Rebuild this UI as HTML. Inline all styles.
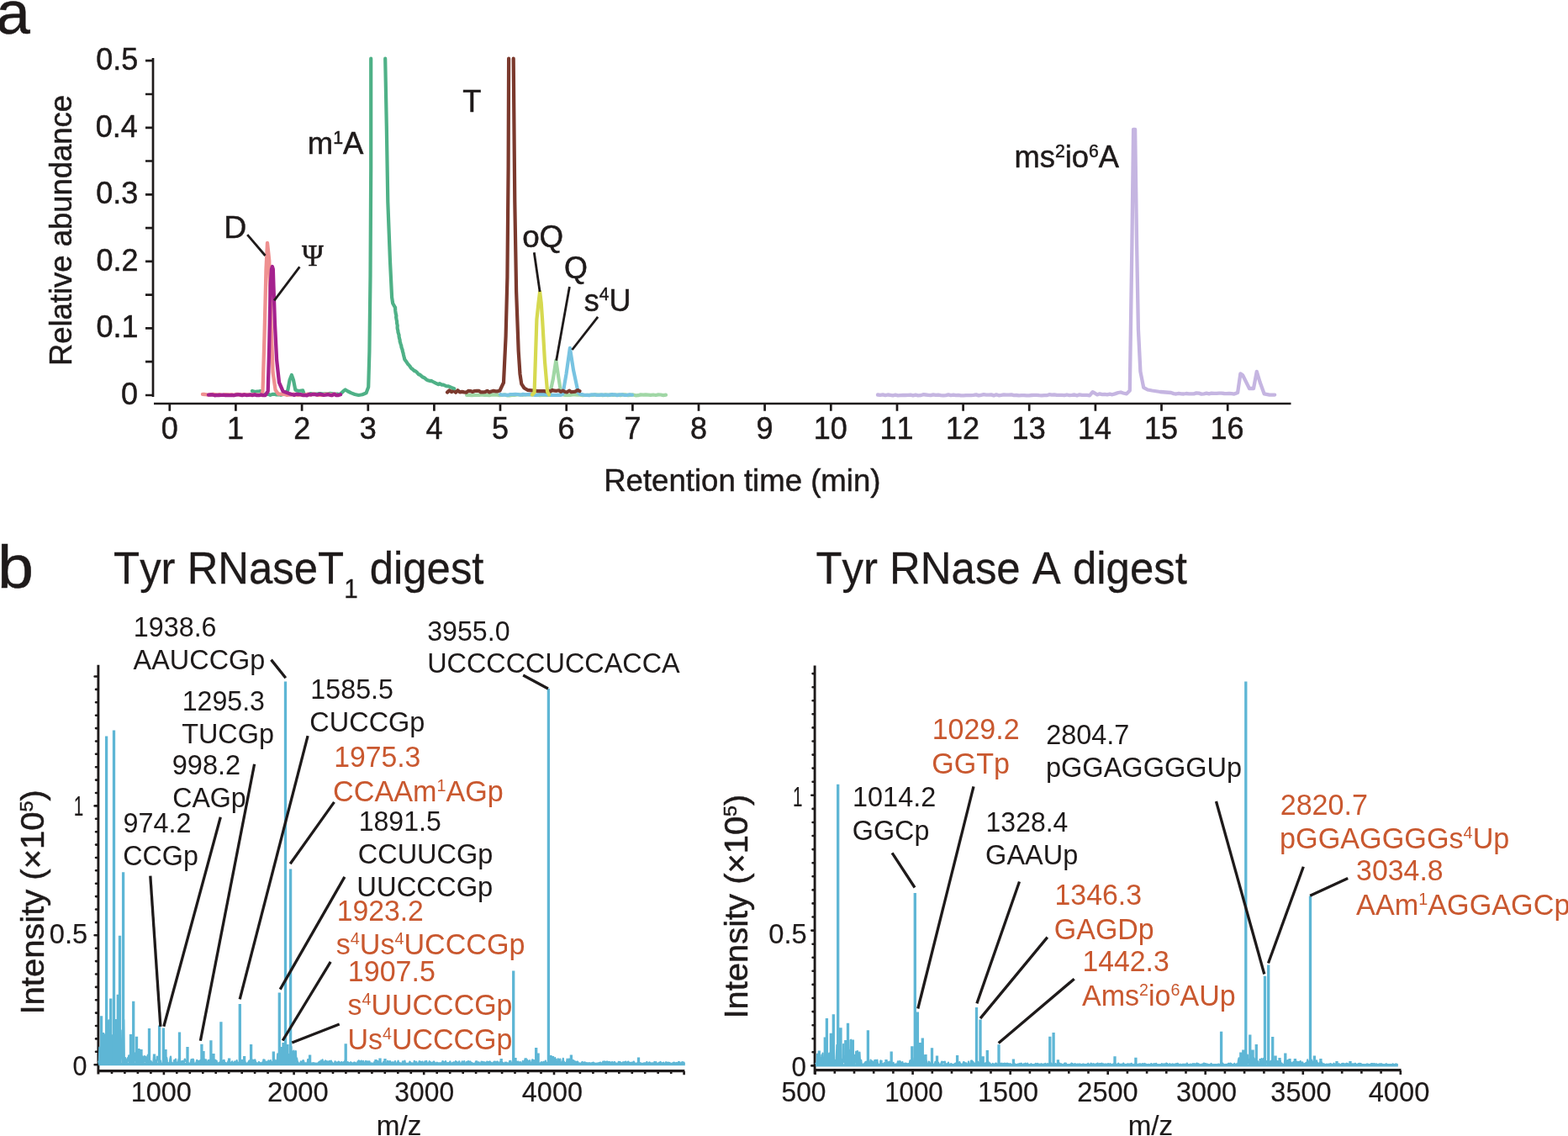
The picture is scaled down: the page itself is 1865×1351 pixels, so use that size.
<!DOCTYPE html>
<html><head><meta charset="utf-8"><title>Figure</title>
<style>html,body{margin:0;padding:0;background:#fff;width:1865px;height:1351px;overflow:hidden}</style></head>
<body>
<svg width="1865" height="1351" viewBox="0 0 1865 1351" style="display:block">
<rect width="1865" height="1351" fill="#ffffff"/>
<g stroke="#1e1a1a" stroke-width="2.7" fill="none">
<path d="M182 69 V472"/>
<path d="M183 480 H1535.5"/>
<path d="M173 470.0 H182 M173 430.2 H182 M173 390.4 H182 M173 350.7 H182 M173 310.9 H182 M173 271.1 H182 M173 231.3 H182 M173 191.5 H182 M173 151.8 H182 M173 112.0 H182 M173 72.2 H182 M201.8 480 V488.7 M280.4 480 V488.7 M359.1 480 V488.7 M437.8 480 V488.7 M516.4 480 V488.7 M595.0 480 V488.7 M673.7 480 V488.7 M752.4 480 V488.7 M831.0 480 V488.7 M909.6 480 V488.7 M988.3 480 V488.7 M1067.0 480 V488.7 M1145.6 480 V488.7 M1224.2 480 V488.7 M1302.9 480 V488.7 M1381.5 480 V488.7 M1460.2 480 V488.7"/>
</g>
<path d="M555.0 469.8 L558.0 469.9 L561.0 470.2 L564.0 469.8 L567.0 469.8 L570.0 469.9 L573.0 469.5 L576.0 469.8 L579.0 469.9 L582.0 470.1 L585.0 469.4 L588.0 469.6 L591.0 469.4 L594.0 470.1 L597.0 470.0 L600.0 469.3 L603.0 470.3 L606.0 470.3 L609.0 470.0 L612.0 469.9 L615.0 469.5 L618.0 469.3 L621.0 469.8 L624.0 469.4 L627.0 469.5 L630.0 469.5 L633.0 469.3 L636.0 469.8 L639.0 469.7 L642.0 470.1 L645.0 469.8 L648.0 469.9 L651.0 469.8 L654.3 467.3 L658.0 450.0 L661.3 428.6 L664.5 450.0 L667.3 467.3 L670.0 469.5 L672.0 469.8 L675.0 470.0 L678.0 470.0 L681.0 469.4 L684.0 469.3 L687.0 469.7 L690.0 469.6 L693.0 470.1 L696.0 470.0 L699.0 469.9 L702.0 469.9 L705.0 470.0 L708.0 469.4 L711.0 469.7 L714.0 469.5 L717.0 470.2 L720.0 469.4 L723.0 470.1 L726.0 469.4 L729.0 470.0 L732.0 469.6 L735.0 469.7 L738.0 470.1 L741.0 469.3 L744.0 469.4 L747.0 470.2 L750.0 469.8 L753.0 469.4 L756.0 470.3 L759.0 470.2 L762.0 469.4 L765.0 469.7 L768.0 469.4 L771.0 469.6 L774.0 469.9 L777.0 469.5 L780.0 470.0 L783.0 469.4 L786.0 469.5 L789.0 470.1 L792.0 469.7" stroke="#a0d7a5" stroke-width="4.2" fill="none" stroke-linejoin="round" stroke-linecap="round"/>
<path d="M595.0 469.1 L598.0 469.7 L601.0 469.7 L604.0 469.9 L607.0 469.0 L610.0 469.0 L613.0 468.9 L616.0 469.0 L619.0 469.7 L622.0 468.9 L625.0 469.4 L628.0 469.0 L631.0 469.1 L634.0 469.3 L637.0 469.9 L640.0 469.6 L643.0 468.7 L646.0 469.1 L649.0 468.9 L652.0 469.9 L655.0 469.8 L658.0 469.8 L661.0 469.9 L664.0 469.7 L667.0 470.0 L669.4 468.7 L673.5 445.0 L677.9 413.8 L682.0 440.0 L687.7 466.6 L690.0 469.0 L692.0 469.1 L695.0 469.8 L698.0 469.8 L701.0 470.1 L704.0 469.3 L707.0 469.3 L710.0 469.9 L713.0 469.8 L716.0 469.4 L719.0 469.8 L722.0 469.5 L725.0 469.9 L728.0 469.1 L731.0 469.3 L734.0 470.1 L737.0 469.4 L740.0 469.3 L743.0 470.0 L746.0 469.8 L749.0 469.2 L752.0 469.7" stroke="#78c3e1" stroke-width="4.2" fill="none" stroke-linejoin="round" stroke-linecap="round"/>
<path d="M532.0 466.6 L534.5 464.3 L537.0 466.1 L539.5 464.7 L542.0 466.7 L544.5 464.3 L547.0 466.4 L549.5 465.9 L552.0 466.4 L554.5 466.7 L557.0 464.9 L559.5 465.1 L562.0 466.0 L564.5 465.0 L567.0 464.9 L569.5 464.8 L572.0 466.4 L574.5 466.4 L577.0 466.2 L579.5 464.8 L582.0 466.5 L584.5 465.5 L587.0 464.9 L589.5 465.4 L592.0 465.3 L594.5 464.5 L599.0 455.0 L601.6 400.0 L603.4 330.0 L604.6 200.0 L605.1 69.7" stroke="#7b392d" stroke-width="4.2" fill="none" stroke-linejoin="round" stroke-linecap="round"/>
<path d="M610.7 69.7 L612.3 240.0 L614.1 346.6 L616.7 417.6 L618.5 445.0 L620.3 456.7 L623.5 461.5 L627.4 463.8 L634.5 464.7 L637.0 464.8 L639.5 465.1 L642.0 465.0 L644.5 465.1 L647.0 465.0 L649.5 465.6 L652.0 464.6 L654.5 465.6 L657.0 463.9 L659.5 464.7 L662.0 464.8 L664.5 464.3 L667.0 465.8 L669.5 464.7 L672.0 466.0 L674.5 466.4 L677.0 464.6 L679.5 466.2 L682.0 466.0 L684.5 465.6 L687.0 464.0 L689.5 465.1" stroke="#7b392d" stroke-width="4.2" fill="none" stroke-linejoin="round" stroke-linecap="round"/>
<path d="M633.0 469.5 L635.6 466.6 L638.4 380.0 L640.5 360.0 L642.1 347.0 L643.7 360.0 L645.1 380.0 L648.0 430.0 L651.1 466.0 L653.0 469.5" stroke="#d6d950" stroke-width="4.2" fill="none" stroke-linejoin="round" stroke-linecap="round"/>
<path d="M300.0 465.0 L302.5 465.8 L305.0 465.7 L307.5 465.5 L310.0 465.0 L314.0 469.8 L316.5 468.9 L319.0 468.7 L321.5 469.9 L324.0 468.9 L326.5 468.8 L329.0 469.5 L331.5 469.1 L334.0 469.8 L336.5 469.0 L340.0 468.0 L342.4 463.7 L344.5 452.0 L346.9 445.9 L349.0 452.0 L351.3 463.7 L355.0 465.0 L360.2 464.4 L362.0 469.4 L364.5 469.4 L367.0 469.3 L369.5 468.0 L372.0 468.8 L374.5 468.6 L377.0 468.7 L379.5 468.1 L382.0 468.2 L384.5 468.6 L387.0 468.3 L389.5 468.6 L392.0 467.9 L394.5 468.0 L397.0 469.0 L399.5 468.6 L402.0 468.7 L404.5 469.1 L408.9 464.7 L410.7 463.5 L414.0 465.5 L417.8 467.4 L422.0 469.0 L426.6 470.0 L431.0 469.3 L435.5 467.4 L438.2 460.3 L439.4 417.6 L440.5 328.8 L441.2 200.0 L441.2 69.7" stroke="#4fb187" stroke-width="4.2" fill="none" stroke-linejoin="round" stroke-linecap="round"/>
<path d="M458.2 69.7 L459.8 150.0 L461.3 240.0 L464.0 311.0 L466.1 353.7 L466.5 356.1 L466.8 358.4 L467.2 360.8 L468.7 363.5 L470.1 365.9 L470.1 367.7 L470.3 369.9 L470.6 372.3 L471.4 375.7 L471.1 376.9 L471.5 379.4 L472.1 382.4 L472.1 384.3 L472.8 387.4 L472.6 388.7 L472.7 390.8 L473.4 393.5 L473.4 394.8 L474.6 398.6 L474.5 399.6 L474.9 401.9 L475.7 404.8 L475.6 405.8 L476.6 409.2 L477.4 411.7 L477.4 412.8 L478.7 416.3 L478.8 417.5 L479.6 420.2 L479.9 421.7 L480.4 423.8 L480.9 425.6 L481.2 427.2 L482.8 429.4 L485.1 432.9 L486.0 433.7 L487.3 435.3 L489.2 438.1 L490.6 438.9 L492.8 441.1 L493.8 441.2 L495.5 442.4 L498.1 445.5 L499.1 445.4 L502.3 448.2 L504.6 449.2 L507.5 451.6 L509.6 452.6 L511.4 453.1 L512.9 452.9 L515.0 454.0 L518.2 455.7 L521.4 457.2 L522.8 456.2 L525.5 457.7 L527.4 457.6 L530.7 459.1 L533.5 459.4 L537.0 460.9 L540.3 462.1" stroke="#4fb187" stroke-width="4.2" fill="none" stroke-linejoin="round" stroke-linecap="round"/>
<path d="M241.0 468.9 L243.5 469.0 L246.0 469.4 L248.5 469.7 L251.0 469.1 L253.5 469.0 L256.0 469.2 L258.5 469.8 L261.0 469.1 L263.5 469.8 L266.0 469.7 L268.5 469.1 L271.0 469.5 L273.5 469.4 L276.0 469.4 L278.5 470.1 L281.0 469.0 L283.5 468.9 L286.0 470.0 L288.5 469.4 L291.0 469.1 L293.5 469.3 L296.0 469.3 L298.5 470.0 L301.0 469.2 L303.5 469.2 L306.0 469.6 L308.5 469.6 L311.0 470.0 L312.5 465.2 L314.5 400.0 L316.5 320.0 L318.0 288.9 L319.2 300.0 L320.2 309.6 L322.4 383.7 L324.6 443.0 L327.6 463.7 L331.0 468.5 L334.0 468.7 L336.5 468.9 L339.0 469.0 L341.5 469.9 L344.0 469.3 L346.5 469.6 L349.0 468.7 L351.5 469.3 L354.0 469.8 L356.5 469.3 L359.0 469.9 L361.5 469.8 L364.0 469.1 L366.5 468.6 L369.0 469.7 L371.5 468.8 L374.0 468.6 L376.5 469.6 L379.0 469.8 L381.5 469.8 L384.0 469.9 L386.5 468.9 L389.0 468.7 L391.5 468.8 L394.0 470.0 L396.5 468.8 L399.0 468.8" stroke="#ef9090" stroke-width="4.3" fill="none" stroke-linejoin="round" stroke-linecap="round"/>
<path d="M248.0 469.7 L250.5 469.5 L253.0 469.4 L255.5 470.3 L258.0 469.9 L260.5 470.0 L263.0 469.9 L265.5 469.7 L268.0 470.1 L270.5 469.9 L273.0 470.1 L275.5 470.0 L278.0 470.2 L280.5 469.7 L283.0 469.4 L285.5 469.4 L288.0 470.1 L290.5 469.4 L293.0 470.0 L295.5 469.9 L298.0 469.3 L300.5 470.1 L303.0 469.2 L305.5 470.2 L308.0 470.2 L310.5 469.5 L313.0 470.1 L315.5 470.1 L318.7 465.2 L320.2 413.3 L321.7 339.3 L323.0 320.0 L323.9 317.0 L324.8 320.0 L325.4 339.3 L326.9 383.7 L329.1 428.1 L332.0 454.8 L336.5 465.2 L343.9 468.1 L348.0 469.3 L350.0 469.9 L352.5 468.7 L355.0 469.2 L357.5 469.1 L360.0 470.0 L362.5 469.9 L365.0 470.3 L367.5 468.9 L370.0 469.5 L372.5 468.8 L375.0 469.1 L377.5 469.6 L380.0 468.7 L382.5 469.1 L385.0 469.9 L387.5 469.7 L390.0 469.1 L392.5 469.8 L395.0 470.2 L397.5 468.7 L400.0 470.2 L402.5 470.0 L405.0 469.3" stroke="#a5228e" stroke-width="4.3" fill="none" stroke-linejoin="round" stroke-linecap="round"/>
<path d="M1044.0 469.5 L1047.0 469.8 L1050.0 469.4 L1053.0 470.2 L1056.0 469.5 L1059.0 469.9 L1062.0 470.3 L1065.0 469.7 L1068.0 470.4 L1071.0 470.1 L1074.0 469.9 L1077.0 470.0 L1080.0 469.9 L1083.0 469.6 L1086.0 470.4 L1089.0 469.7 L1092.0 470.4 L1095.0 470.2 L1098.0 469.2 L1101.0 469.5 L1104.0 469.8 L1107.0 470.2 L1110.0 469.4 L1113.0 469.9 L1116.0 469.6 L1119.0 470.1 L1122.0 470.3 L1125.0 470.1 L1128.0 469.4 L1131.0 470.1 L1134.0 469.7 L1137.0 470.2 L1140.0 469.8 L1143.0 470.3 L1146.0 470.4 L1149.0 470.2 L1152.0 470.2 L1155.0 470.2 L1158.0 469.9 L1161.0 469.4 L1164.0 470.4 L1167.0 469.8 L1170.0 469.2 L1173.0 469.7 L1176.0 469.7 L1179.0 469.4 L1182.0 470.4 L1185.0 469.3 L1188.0 470.3 L1191.0 469.9 L1194.0 469.4 L1197.0 469.6 L1200.0 469.7 L1203.0 469.3 L1206.0 470.1 L1209.0 470.0 L1212.0 470.4 L1215.0 470.2 L1218.0 470.1 L1221.0 470.4 L1224.0 470.3 L1227.0 470.0 L1230.0 469.8 L1233.0 469.8 L1236.0 470.2 L1239.0 470.3 L1242.0 470.2 L1245.0 470.2 L1248.0 469.2 L1251.0 469.7 L1254.0 469.3 L1257.0 469.9 L1260.0 469.9 L1263.0 469.9 L1266.0 470.2 L1269.0 469.5 L1272.0 470.1 L1275.0 469.9 L1278.0 469.5 L1281.0 470.4 L1284.0 469.3 L1287.0 469.8 L1290.0 469.8 L1293.0 469.9 L1296.0 470.4 L1299.6 466.2 L1302.0 467.5 L1305.0 469.4 L1308.0 468.3 L1311.0 469.1 L1314.0 468.8 L1317.0 469.3 L1320.0 468.7 L1323.0 469.3 L1326.0 468.4 L1330.0 467.0 L1333.0 466.5 L1336.0 467.5 L1340.0 468.3 L1343.8 464.5 L1346.4 291.0 L1348.1 153.8 L1350.1 153.8 L1352.1 291.0 L1353.9 391.6 L1356.4 441.9 L1360.2 460.8 L1365.0 463.5 L1370.3 464.5 L1380.0 466.0 L1392.9 467.0 L1396.0 468.1 L1399.0 468.5 L1402.0 467.9 L1405.0 468.3 L1408.0 468.5 L1411.0 468.0 L1414.0 468.3 L1417.0 468.3 L1420.0 468.4 L1423.0 467.4 L1426.0 467.6 L1429.0 468.6 L1432.0 468.3 L1435.0 467.7 L1438.0 468.3 L1441.0 467.6 L1444.0 467.8 L1447.0 467.9 L1450.0 467.7 L1453.0 467.6 L1456.0 468.0 L1459.0 468.2 L1462.0 467.8 L1465.0 468.2 L1468.0 468.6 L1472.1 467.0 L1475.4 444.4 L1478.0 446.0 L1481.0 452.0 L1486.0 462.0 L1491.0 462.0 L1494.8 441.9 L1498.6 454.5 L1503.6 468.3 L1510.0 469.6 L1516.2 469.6" stroke="#c5b5e1" stroke-width="4.3" fill="none" stroke-linejoin="round" stroke-linecap="round"/>
<g stroke="#1e1a1a" stroke-width="2.8" fill="none">
<path d="M294.2 279.1 L315.5 304"/>
<path d="M356.4 317.3 L326.2 357.3"/>
<path d="M635.3 300.2 L642.1 347"/>
<path d="M677.4 341.1 L661.7 428.8"/>
<path d="M711.1 376.9 L680.5 416"/>
</g>
<g stroke="#1e1a1a" fill="none" stroke-linecap="round">
<path d="M116.9 790.7 V1277.6" stroke-width="2.9" stroke-linecap="butt"/>
<path d="M116 1273.6 H814.3" stroke-width="3.2" stroke-linecap="butt"/>
<path d="M112.6 1266.2 H116 M114 1250.8 H116 M114 1235.4 H116 M114 1220.0 H116 M114 1204.6 H116 M114 1189.2 H116 M114 1173.9 H116 M114 1158.5 H116 M114 1143.1 H116 M114 1127.7 H116 M112.6 1112.3 H116 M114 1096.9 H116 M114 1081.5 H116 M114 1066.1 H116 M114 1050.7 H116 M114 1035.3 H116 M114 1020.0 H116 M114 1004.6 H116 M114 989.2 H116 M114 973.8 H116 M112.6 958.4 H116 M114 943.0 H116 M114 927.6 H116 M114 912.2 H116 M114 896.8 H116 M114 881.5 H116 M114 866.1 H116 M114 850.7 H116 M114 835.3 H116 M114 819.9 H116 M112.6 804.5 H116" stroke-width="2.6"/>
<path d="M133.0 1274 V1277.1 M148.4 1274 V1277.1 M163.9 1274 V1277.1 M179.4 1274 V1277.1 M194.9 1274 V1278.3 M210.3 1274 V1277.1 M225.8 1274 V1277.1 M241.3 1274 V1277.1 M256.7 1274 V1277.1 M272.2 1274 V1277.1 M287.7 1274 V1277.1 M303.1 1274 V1277.1 M318.6 1274 V1277.1 M334.1 1274 V1277.1 M349.6 1274 V1278.3 M365.0 1274 V1277.1 M380.5 1274 V1277.1 M396.0 1274 V1277.1 M411.4 1274 V1277.1 M426.9 1274 V1277.1 M442.4 1274 V1277.1 M457.8 1274 V1277.1 M473.3 1274 V1277.1 M488.8 1274 V1277.1 M504.2 1274 V1278.3 M519.7 1274 V1277.1 M535.2 1274 V1277.1 M550.7 1274 V1277.1 M566.1 1274 V1277.1 M581.6 1274 V1277.1 M597.1 1274 V1277.1 M612.5 1274 V1277.1 M628.0 1274 V1277.1 M643.5 1274 V1277.1 M659.0 1274 V1278.3 M674.4 1274 V1277.1 M689.9 1274 V1277.1 M705.4 1274 V1277.1 M720.8 1274 V1277.1 M736.3 1274 V1277.1 M751.8 1274 V1277.1 M767.2 1274 V1277.1 M782.7 1274 V1277.1 M798.2 1274 V1277.1 M813.6 1274 V1278.3" stroke-width="2.6" stroke-linecap="butt"/>
</g>
<g stroke="#1e1a1a" fill="none" stroke-linecap="round">
<path d="M969.1 791.6 V1277.6" stroke-width="2.9" stroke-linecap="butt"/>
<path d="M968.5 1272.6 H1666.5" stroke-width="3.2" stroke-linecap="butt"/>
<path d="M965.3 1267.4 H968 M966.6 1251.3 H968 M966.6 1235.2 H968 M966.6 1219.2 H968 M966.6 1203.1 H968 M966.6 1187.0 H968 M966.6 1170.9 H968 M966.6 1154.8 H968 M966.6 1138.8 H968 M966.6 1122.7 H968 M965.3 1106.6 H968 M966.6 1090.5 H968 M966.6 1074.4 H968 M966.6 1058.4 H968 M966.6 1042.3 H968 M966.6 1026.2 H968 M966.6 1010.1 H968 M966.6 994.0 H968 M966.6 978.0 H968 M966.6 961.9 H968 M965.3 945.8 H968 M966.6 929.7 H968 M966.6 913.6 H968 M966.6 897.6 H968 M966.6 881.5 H968 M966.6 865.4 H968 M966.6 849.3 H968 M966.6 833.2 H968 M966.6 817.2 H968 M966.6 801.1 H968" stroke-width="2.6"/>
<path d="M969.6 1273 V1278.0 M992.8 1273 V1276.8 M1016.0 1273 V1276.8 M1039.2 1273 V1276.8 M1062.4 1273 V1276.8 M1085.6 1273 V1278.0 M1108.8 1273 V1276.8 M1132.0 1273 V1276.8 M1155.3 1273 V1276.8 M1178.5 1273 V1276.8 M1201.7 1273 V1278.0 M1224.9 1273 V1276.8 M1248.1 1273 V1276.8 M1271.3 1273 V1276.8 M1294.5 1273 V1276.8 M1317.7 1273 V1278.0 M1340.9 1273 V1276.8 M1364.1 1273 V1276.8 M1387.3 1273 V1276.8 M1410.5 1273 V1276.8 M1433.7 1273 V1278.0 M1456.9 1273 V1276.8 M1480.1 1273 V1276.8 M1503.4 1273 V1276.8 M1526.6 1273 V1276.8 M1549.8 1273 V1278.0 M1573.0 1273 V1276.8 M1596.2 1273 V1276.8 M1619.4 1273 V1276.8 M1642.6 1273 V1276.8 M1665.8 1273 V1278.0" stroke-width="2.6" stroke-linecap="butt"/>
</g>
<path d="M117.2 1265.5 H814.8" stroke="#5eb6d5" stroke-width="3.3" fill="none"/>
<path d="M117.20 1261.6 L117.80 1264.7 L118.40 1245.7 L119.00 1265.2 L119.60 1253.0 L120.20 1260.4 L120.80 1265.2 L121.40 1254.5 L122.00 1265.3 L122.60 1257.9 L123.20 1265.2 L123.80 1265.1 L124.40 1258.3 L125.00 1230.5 L125.60 1264.9 L126.20 1263.8 L126.80 1247.3 L127.40 1217.0 L128.00 1250.6 L128.60 1259.3 L129.20 1213.4 L129.80 1265.3 L130.40 1227.2 L131.00 1262.5 L131.60 1264.8 L132.20 1265.0 L132.80 1262.0 L133.40 1231.5 L134.00 1264.4 L134.60 1250.3 L135.20 1246.5 L135.80 1260.2 L136.40 1252.3 L137.00 1265.2 L137.60 1265.2 L138.20 1264.1 L138.80 1243.5 L139.40 1258.1 L140.00 1261.9 L140.60 1250.1 L141.20 1257.1 L141.80 1262.2 L142.40 1233.6 L143.00 1242.0 L143.60 1263.4 L144.20 1250.8 L144.80 1253.6 L145.40 1225.4 L146.00 1239.5 L146.60 1262.5 L147.20 1212.9 L147.80 1265.0 L148.40 1260.5 L149.00 1258.1 L149.60 1265.1 L150.20 1262.8 L150.80 1265.3 L151.40 1260.1 L152.00 1258.1 L152.60 1261.7 L153.20 1255.4 L153.80 1264.5 L154.40 1259.6 L155.00 1261.4 L155.60 1261.7 L156.20 1263.3 L156.80 1256.5 L157.40 1253.7 L158.00 1263.1 L158.60 1260.3 L159.20 1265.3 L159.80 1259.7 L160.40 1260.7 L161.00 1252.5 L161.60 1257.2 L162.20 1264.7 L162.80 1264.0 L163.40 1260.4 L164.00 1265.3 L164.60 1263.3 L165.20 1265.1 L165.80 1265.2 L166.40 1265.3 L167.00 1258.6 L167.60 1265.2 L168.20 1264.9 L168.80 1264.0 L169.40 1256.4 L170.00 1265.3 L170.60 1263.5 L171.20 1262.4 L171.80 1256.2 L172.40 1257.8 L173.00 1256.8 L173.60 1264.7 L174.20 1263.8 L174.80 1264.3 L175.40 1256.4 L176.00 1254.6 L176.60 1265.2 L177.20 1265.1 L177.80 1264.9 L178.40 1264.9 L179.00 1263.2 L179.60 1262.0 L180.20 1264.8 L180.80 1265.3 L181.40 1263.9 L182.00 1264.3 L182.60 1262.4 L183.20 1255.2 L183.80 1260.7 L184.40 1263.0 L185.00 1261.8 L185.60 1260.9 L186.20 1265.3 L186.80 1256.7 L187.40 1259.2 L188.00 1257.4 L188.60 1259.0 L189.20 1264.2 L189.80 1264.1 L190.40 1265.3 L191.00 1261.7 L191.60 1265.3 L192.20 1265.3 L192.80 1265.1 L193.40 1265.2 L194.00 1264.5 L194.60 1265.3 L195.20 1265.3 L195.80 1265.2 L196.40 1265.3 L197.00 1264.4 L197.60 1265.3 L198.20 1258.0 L198.80 1262.2 L199.40 1265.2 L200.00 1264.9 L200.60 1264.5 L201.20 1264.5 L201.80 1265.2 L202.40 1259.2 L203.00 1256.6 L203.60 1263.9 L204.20 1263.8 L204.80 1265.3 L205.40 1265.3 L206.00 1264.7 L206.60 1265.0 L207.20 1260.8 L207.80 1265.2 L208.40 1265.3 L209.00 1259.6 L209.60 1264.0 L210.20 1265.2 L210.80 1263.9 L211.40 1265.3 L212.00 1264.0 L212.60 1259.6 L213.20 1261.1 L213.80 1262.8 L214.40 1265.1 L215.00 1264.8 L215.60 1265.2 L216.20 1262.1 L216.80 1264.0 L217.40 1262.0 L218.00 1264.9 L218.60 1265.1 L219.20 1261.7 L219.80 1259.6 L220.40 1261.3 L221.00 1261.8 L221.60 1261.7 L222.20 1262.5 L222.80 1265.1 L223.40 1264.1 L224.00 1264.8 L224.60 1265.3 L225.20 1265.3 L225.80 1265.0 L226.40 1265.1 L227.00 1262.9 L227.60 1260.1 L228.20 1264.5 L228.80 1260.3 L229.40 1259.7 L230.00 1260.1 L230.60 1264.8 L231.20 1265.1 L231.80 1265.1 L232.40 1265.2 L233.00 1265.2 L233.60 1263.4 L234.20 1260.8 L234.80 1261.5 L235.40 1264.3 L236.00 1263.2 L236.60 1262.0 L237.20 1265.3 L237.80 1263.2 L238.40 1260.8 L239.00 1262.2 L239.60 1262.5 L240.20 1264.3 L240.80 1265.2 L241.40 1262.1 L242.00 1264.9 L242.60 1262.0 L243.20 1260.0 L243.80 1264.7 L244.40 1264.7 L245.00 1260.4 L245.60 1262.7 L246.20 1265.2 L246.80 1265.3 L247.40 1265.2 L248.00 1260.9 L248.60 1262.0 L249.20 1265.2 L249.80 1261.8 L250.40 1260.0 L251.00 1263.3 L251.60 1264.9 L252.20 1264.0 L252.80 1265.3 L253.40 1265.3 L254.00 1260.2 L254.60 1263.3 L255.20 1264.1 L255.80 1260.6 L256.40 1264.6 L257.00 1261.4 L257.60 1261.8 L258.20 1265.2 L258.80 1265.1 L259.40 1265.0 L260.00 1265.1 L260.60 1263.8 L261.20 1265.1 L261.80 1264.6 L262.40 1265.3 L263.00 1261.0 L263.60 1264.9 L264.20 1264.5 L264.80 1263.8 L265.40 1261.1 L266.00 1264.6 L266.60 1260.9 L267.20 1264.3 L267.80 1264.1 L268.40 1264.2 L269.00 1265.3 L269.60 1264.6 L270.20 1265.2 L270.80 1265.3 L271.40 1262.2 L272.00 1265.2 L272.60 1264.4 L273.20 1262.8 L273.80 1264.0 L274.40 1264.9 L275.00 1264.2 L275.60 1264.0 L276.20 1262.4 L276.80 1265.3 L277.40 1264.0 L278.00 1265.1 L278.60 1265.1 L279.20 1262.5 L279.80 1264.3 L280.40 1264.0 L281.00 1262.6 L281.60 1261.1 L282.20 1264.6 L282.80 1263.7 L283.40 1264.3 L284.00 1264.3 L284.60 1263.2 L285.20 1264.5 L285.80 1264.2 L286.40 1264.4 L287.00 1260.8 L287.60 1263.1 L288.20 1261.6 L288.80 1260.9 L289.40 1265.1 L290.00 1264.0 L290.60 1260.9 L291.20 1261.9 L291.80 1265.3 L292.40 1265.3 L293.00 1264.6 L293.60 1265.3 L294.20 1265.1 L294.80 1265.3 L295.40 1263.4 L296.00 1262.5 L296.60 1261.4 L297.20 1265.2 L297.80 1263.0 L298.40 1263.4 L299.00 1265.3 L299.60 1261.6 L300.20 1260.7 L300.80 1265.2 L301.40 1260.9 L302.00 1264.8 L302.60 1264.4 L303.20 1260.4 L303.80 1262.1 L304.40 1265.2 L305.00 1264.6 L305.60 1264.3 L306.20 1264.9 L306.80 1265.2 L307.40 1265.0 L308.00 1263.0 L308.60 1265.3 L309.20 1264.1 L309.80 1264.6 L310.40 1265.3 L311.00 1264.9 L311.60 1263.7 L312.20 1264.3 L312.80 1265.3 L313.40 1260.5 L314.00 1262.5 L314.60 1260.6 L315.20 1265.3 L315.80 1265.1 L316.40 1265.3 L317.00 1262.6 L317.60 1265.1 L318.20 1265.3 L318.80 1264.7 L319.40 1261.3 L320.00 1262.2 L320.60 1265.1 L321.20 1265.2 L321.80 1261.1 L322.40 1263.9 L323.00 1263.0 L323.60 1265.3 L324.20 1265.3 L324.80 1263.0 L325.40 1264.6 L326.00 1265.3 L326.60 1260.4 L327.20 1263.4 L327.80 1261.8 L328.40 1265.3 L329.00 1261.2 L329.60 1265.3 L330.20 1253.5 L330.80 1262.0 L331.40 1263.5 L332.00 1259.5 L332.60 1245.3 L333.20 1264.3 L333.80 1265.1 L334.40 1260.1 L335.00 1264.5 L335.60 1265.2 L336.20 1265.0 L336.80 1265.3 L337.40 1264.8 L338.00 1263.8 L338.60 1263.9 L339.20 1252.9 L339.80 1264.1 L340.40 1260.8 L341.00 1264.9 L341.60 1263.4 L342.20 1265.3 L342.80 1264.4 L343.40 1265.3 L344.00 1253.9 L344.60 1259.6 L345.20 1264.9 L345.80 1261.3 L346.40 1244.9 L347.00 1265.2 L347.60 1250.4 L348.20 1262.1 L348.80 1260.9 L349.40 1249.7 L350.00 1262.7 L350.60 1261.1 L351.20 1257.7 L351.80 1250.1 L352.40 1264.3 L353.00 1258.5 L353.60 1261.9 L354.20 1263.3 L354.80 1264.6 L355.40 1264.8 L356.00 1265.3 L356.60 1265.3 L357.20 1265.3 L357.80 1262.4 L358.40 1265.1 L359.00 1265.2 L359.60 1265.3 L360.20 1261.5 L360.80 1261.1 L361.40 1263.1 L362.00 1265.0 L362.60 1265.1 L363.20 1265.0 L363.80 1264.4 L364.40 1265.2 L365.00 1264.5 L365.60 1265.1 L366.20 1260.2 L366.80 1260.0 L367.40 1264.0 L368.00 1265.1 L368.60 1260.2 L369.20 1265.0 L369.80 1264.8 L370.40 1265.3 L371.00 1264.8 L371.60 1264.4 L372.20 1264.3 L372.80 1265.2 L373.40 1264.3 L374.00 1265.3 L374.60 1265.1 L375.20 1265.3 L375.80 1264.7 L376.40 1265.3 L377.00 1265.3 L377.60 1265.0 L378.20 1265.1 L378.80 1263.8 L379.40 1264.2 L380.00 1262.7 L380.60 1263.4 L381.20 1263.0 L381.80 1261.5 L382.40 1264.8 L383.00 1265.0 L383.60 1260.4 L384.20 1265.2 L384.80 1263.0 L385.40 1263.5 L386.00 1265.3 L386.60 1262.0 L387.20 1261.5 L387.80 1263.7 L388.40 1262.9 L389.00 1262.3 L389.60 1265.3 L390.20 1264.3 L390.80 1264.4 L391.40 1262.1 L392.00 1262.4 L392.60 1262.2 L393.20 1264.0 L393.80 1261.6 L394.40 1263.4 L395.00 1263.3 L395.60 1265.2 L396.20 1265.3 L396.80 1265.3 L397.40 1264.9 L398.00 1265.3 L398.60 1262.3 L399.20 1264.2 L399.80 1263.8 L400.40 1263.8 L401.00 1263.5 L401.60 1264.5 L402.20 1265.3 L402.80 1262.7 L403.40 1263.1 L404.00 1264.4 L404.60 1264.3 L405.20 1263.7 L405.80 1265.3 L406.40 1263.2 L407.00 1265.1 L407.60 1265.3 L408.20 1265.1 L408.80 1263.3 L409.40 1265.2 L410.00 1263.2 L410.60 1261.3 L411.20 1264.5 L411.80 1264.9 L412.40 1264.6 L413.00 1263.6 L413.60 1263.1 L414.20 1264.0 L414.80 1263.9 L415.40 1265.3 L416.00 1265.3 L416.60 1265.1 L417.20 1263.3 L417.80 1265.1 L418.40 1264.3 L419.00 1265.3 L419.60 1265.3 L420.20 1265.1 L420.80 1263.8 L421.40 1263.6 L422.00 1263.7 L422.60 1265.1 L423.20 1264.5 L423.80 1264.7 L424.40 1264.7 L425.00 1265.3 L425.60 1262.3 L426.20 1265.2 L426.80 1261.5 L427.40 1261.9 L428.00 1265.3 L428.60 1264.7 L429.20 1262.8 L429.80 1261.6 L430.40 1264.7 L431.00 1265.1 L431.60 1265.2 L432.20 1261.9 L432.80 1265.2 L433.40 1264.2 L434.00 1265.3 L434.60 1264.5 L435.20 1261.8 L435.80 1265.3 L436.40 1262.9 L437.00 1264.5 L437.60 1262.4 L438.20 1263.6 L438.80 1265.2 L439.40 1262.3 L440.00 1264.6 L440.60 1265.3 L441.20 1265.3 L441.80 1264.6 L442.40 1264.7 L443.00 1265.1 L443.60 1265.3 L444.20 1265.0 L444.80 1265.1 L445.40 1262.8 L446.00 1265.3 L446.60 1263.4 L447.20 1262.8 L447.80 1265.3 L448.40 1262.1 L449.00 1263.6 L449.60 1262.3 L450.20 1265.1 L450.80 1264.9 L451.40 1264.9 L452.00 1261.5 L452.60 1264.2 L453.20 1265.0 L453.80 1264.8 L454.40 1265.1 L455.00 1265.3 L455.60 1265.3 L456.20 1262.8 L456.80 1265.1 L457.40 1262.1 L458.00 1265.2 L458.60 1265.1 L459.20 1264.5 L459.80 1265.2 L460.40 1264.9 L461.00 1261.9 L461.60 1262.5 L462.20 1263.0 L462.80 1264.1 L463.40 1262.3 L464.00 1262.1 L464.60 1264.4 L465.20 1263.6 L465.80 1265.3 L466.40 1263.5 L467.00 1264.7 L467.60 1263.4 L468.20 1264.0 L468.80 1265.1 L469.40 1265.3 L470.00 1262.2 L470.60 1265.3 L471.20 1264.7 L471.80 1265.0 L472.40 1265.1 L473.00 1263.5 L473.60 1261.8 L474.20 1265.2 L474.80 1264.0 L475.40 1265.1 L476.00 1264.4 L476.60 1264.9 L477.20 1265.2 L477.80 1265.3 L478.40 1265.2 L479.00 1262.4 L479.60 1264.6 L480.20 1265.2 L480.80 1262.4 L481.40 1261.7 L482.00 1264.8 L482.60 1265.3 L483.20 1265.2 L483.80 1265.3 L484.40 1265.0 L485.00 1265.3 L485.60 1265.2 L486.20 1265.2 L486.80 1264.4 L487.40 1262.6 L488.00 1263.5 L488.60 1264.9 L489.20 1264.9 L489.80 1264.5 L490.40 1265.0 L491.00 1265.0 L491.60 1265.3 L492.20 1265.1 L492.80 1262.0 L493.40 1265.3 L494.00 1264.6 L494.60 1264.1 L495.20 1262.8 L495.80 1265.2 L496.40 1265.1 L497.00 1265.2 L497.60 1264.9 L498.20 1264.8 L498.80 1262.1 L499.40 1262.9 L500.00 1262.7 L500.60 1265.3 L501.20 1265.3 L501.80 1263.7 L502.40 1262.6 L503.00 1264.7 L503.60 1264.3 L504.20 1265.3 L504.80 1264.9 L505.40 1262.4 L506.00 1263.1 L506.60 1262.9 L507.20 1262.0 L507.80 1265.2 L508.40 1265.3 L509.00 1265.3 L509.60 1264.6 L510.20 1263.9 L510.80 1262.3 L511.40 1263.7 L512.00 1264.1 L512.60 1263.5 L513.20 1264.8 L513.80 1264.5 L514.40 1265.3 L515.00 1263.4 L515.60 1265.2 L516.20 1262.5 L516.80 1264.1 L517.40 1265.1 L518.00 1265.3 L518.60 1265.2 L519.20 1264.1 L519.80 1263.8 L520.40 1265.3 L521.00 1265.3 L521.60 1264.6 L522.20 1264.4 L522.80 1264.9 L523.40 1265.2 L524.00 1264.3 L524.60 1265.3 L525.20 1265.1 L525.80 1264.8 L526.40 1262.2 L527.00 1264.1 L527.60 1262.8 L528.20 1264.7 L528.80 1265.2 L529.40 1265.2 L530.00 1262.2 L530.60 1263.8 L531.20 1265.1 L531.80 1265.3 L532.40 1264.7 L533.00 1264.0 L533.60 1264.9 L534.20 1265.2 L534.80 1264.0 L535.40 1262.5 L536.00 1265.2 L536.60 1265.3 L537.20 1265.1 L537.80 1264.9 L538.40 1264.0 L539.00 1265.2 L539.60 1263.4 L540.20 1263.7 L540.80 1264.7 L541.40 1265.2 L542.00 1262.2 L542.60 1265.1 L543.20 1263.2 L543.80 1265.2 L544.40 1265.2 L545.00 1263.6 L545.60 1265.1 L546.20 1262.4 L546.80 1264.7 L547.40 1265.2 L548.00 1265.2 L548.60 1264.9 L549.20 1264.1 L549.80 1262.4 L550.40 1265.3 L551.00 1265.0 L551.60 1265.2 L552.20 1262.2 L552.80 1265.3 L553.40 1265.3 L554.00 1265.3 L554.60 1265.0 L555.20 1262.8 L555.80 1262.9 L556.40 1263.8 L557.00 1262.1 L557.60 1262.6 L558.20 1265.1 L558.80 1265.2 L559.40 1262.5 L560.00 1263.7 L560.60 1265.3 L561.20 1264.1 L561.80 1265.0 L562.40 1265.0 L563.00 1265.1 L563.60 1265.3 L564.20 1265.3 L564.80 1265.1 L565.40 1265.0 L566.00 1262.4 L566.60 1265.3 L567.20 1262.4 L567.80 1265.2 L568.40 1265.0 L569.00 1263.3 L569.60 1263.3 L570.20 1264.9 L570.80 1265.3 L571.40 1264.8 L572.00 1265.0 L572.60 1262.7 L573.20 1265.2 L573.80 1265.0 L574.40 1262.9 L575.00 1265.3 L575.60 1264.9 L576.20 1263.4 L576.80 1263.6 L577.40 1265.3 L578.00 1265.3 L578.60 1265.3 L579.20 1262.7 L579.80 1265.2 L580.40 1263.8 L581.00 1262.9 L581.60 1265.1 L582.20 1265.2 L582.80 1262.5 L583.40 1264.3 L584.00 1265.2 L584.60 1263.9 L585.20 1265.1 L585.80 1265.2 L586.40 1265.3 L587.00 1263.7 L587.60 1262.8 L588.20 1264.3 L588.80 1262.6 L589.40 1265.3 L590.00 1265.2 L590.60 1264.8 L591.20 1262.6 L591.80 1262.6 L592.40 1265.0 L593.00 1265.2 L593.60 1264.9 L594.20 1264.7 L594.80 1262.8 L595.40 1265.2 L596.00 1263.5 L596.60 1263.8 L597.20 1263.4 L597.80 1263.7 L598.40 1264.4 L599.00 1265.1 L599.60 1265.1 L600.20 1265.0 L600.80 1263.6 L601.40 1265.3 L602.00 1265.2 L602.60 1263.7 L603.20 1265.2 L603.80 1265.3 L604.40 1265.3 L605.00 1264.5 L605.60 1265.1 L606.20 1262.0 L606.80 1262.7 L607.40 1261.9 L608.00 1265.2 L608.60 1265.3 L609.20 1265.3 L609.80 1264.6 L610.40 1263.7 L611.00 1264.8 L611.60 1265.2 L612.20 1264.8 L612.80 1264.1 L613.40 1263.8 L614.00 1263.3 L614.60 1262.6 L615.20 1263.8 L615.80 1265.3 L616.40 1262.6 L617.00 1265.1 L617.60 1264.2 L618.20 1264.9 L618.80 1263.2 L619.40 1265.2 L620.00 1265.1 L620.60 1265.1 L621.20 1265.3 L621.80 1262.0 L622.40 1264.1 L623.00 1265.0 L623.60 1264.8 L624.20 1260.8 L624.80 1264.4 L625.40 1265.2 L626.00 1262.5 L626.60 1263.6 L627.20 1260.6 L627.80 1265.3 L628.40 1264.5 L629.00 1262.2 L629.60 1262.0 L630.20 1261.3 L630.80 1265.3 L631.40 1265.0 L632.00 1265.3 L632.60 1265.2 L633.20 1260.4 L633.80 1263.9 L634.40 1260.9 L635.00 1264.8 L635.60 1261.5 L636.20 1264.5 L636.80 1265.1 L637.40 1262.3 L638.00 1260.5 L638.60 1265.3 L639.20 1263.7 L639.80 1263.5 L640.40 1265.2 L641.00 1264.8 L641.60 1265.2 L642.20 1265.2 L642.80 1265.1 L643.40 1263.6 L644.00 1263.2 L644.60 1265.2 L645.20 1265.3 L645.80 1264.9 L646.40 1262.9 L647.00 1265.2 L647.60 1264.9 L648.20 1265.2 L648.80 1261.7 L649.40 1263.8 L650.00 1265.3 L650.60 1265.3 L651.20 1264.6 L651.80 1263.7 L652.40 1263.0 L653.00 1265.3 L653.60 1265.2 L654.20 1262.5 L654.80 1264.5 L655.40 1265.0 L656.00 1264.9 L656.60 1259.1 L657.20 1264.9 L657.80 1263.5 L658.40 1264.7 L659.00 1264.4 L659.60 1260.2 L660.20 1258.1 L660.80 1264.7 L661.40 1265.2 L662.00 1261.9 L662.60 1265.1 L663.20 1265.3 L663.80 1259.4 L664.40 1264.3 L665.00 1260.6 L665.60 1264.4 L666.20 1259.6 L666.80 1264.1 L667.40 1265.2 L668.00 1265.3 L668.60 1263.4 L669.20 1262.6 L669.80 1258.9 L670.40 1265.3 L671.00 1262.8 L671.60 1264.6 L672.20 1263.9 L672.80 1265.2 L673.40 1265.0 L674.00 1263.8 L674.60 1259.6 L675.20 1265.3 L675.80 1264.1 L676.40 1261.5 L677.00 1259.5 L677.60 1265.2 L678.20 1265.3 L678.80 1260.3 L679.40 1260.0 L680.00 1264.3 L680.60 1265.3 L681.20 1261.0 L681.80 1264.8 L682.40 1261.5 L683.00 1263.8 L683.60 1262.4 L684.20 1265.2 L684.80 1262.9 L685.40 1265.2 L686.00 1264.8 L686.60 1262.7 L687.20 1262.9 L687.80 1265.2 L688.40 1265.2 L689.00 1264.9 L689.60 1264.7 L690.20 1265.0 L690.80 1265.3 L691.40 1265.2 L692.00 1263.9 L692.60 1263.0 L693.20 1265.3 L693.80 1264.6 L694.40 1263.8 L695.00 1265.3 L695.60 1263.4 L696.20 1265.3 L696.80 1264.4 L697.40 1264.6 L698.00 1264.3 L698.60 1265.1 L699.20 1264.9 L699.80 1264.5 L700.40 1264.9 L701.00 1264.2 L701.60 1264.9 L702.20 1264.9 L702.80 1265.3 L703.40 1264.4 L704.00 1264.8 L704.60 1265.2 L705.20 1263.8 L705.80 1263.7 L706.40 1264.8 L707.00 1265.3 L707.60 1264.8 L708.20 1265.3 L708.80 1265.3 L709.40 1264.9 L710.00 1265.3 L710.60 1264.9 L711.20 1264.7 L711.80 1265.3 L712.40 1264.3 L713.00 1265.3 L713.60 1263.9 L714.20 1263.7 L714.80 1264.7 L715.40 1265.3 L716.00 1264.7 L716.60 1265.0 L717.20 1262.7 L717.80 1265.3 L718.40 1263.3 L719.00 1262.4 L719.60 1263.9 L720.20 1263.5 L720.80 1265.2 L721.40 1262.6 L722.00 1264.8 L722.60 1262.7 L723.20 1263.0 L723.80 1265.3 L724.40 1263.7 L725.00 1262.9 L725.60 1265.3 L726.20 1265.1 L726.80 1263.8 L727.40 1265.3 L728.00 1263.1 L728.60 1265.2 L729.20 1263.6 L729.80 1265.3 L730.40 1264.8 L731.00 1263.0 L731.60 1265.2 L732.20 1265.2 L732.80 1264.7 L733.40 1265.1 L734.00 1265.3 L734.60 1265.3 L735.20 1265.3 L735.80 1262.9 L736.40 1264.2 L737.00 1263.1 L737.60 1265.3 L738.20 1263.7 L738.80 1265.3 L739.40 1264.7 L740.00 1264.4 L740.60 1265.1 L741.20 1263.3 L741.80 1264.6 L742.40 1264.5 L743.00 1263.2 L743.60 1265.3 L744.20 1262.6 L744.80 1264.4 L745.40 1265.0 L746.00 1263.7 L746.60 1265.2 L747.20 1262.6 L747.80 1264.6 L748.40 1265.1 L749.00 1263.8 L749.60 1264.9 L750.20 1265.3 L750.80 1263.9 L751.40 1265.3 L752.00 1263.6 L752.60 1265.2 L753.20 1264.4 L753.80 1262.7 L754.40 1264.5 L755.00 1264.3 L755.60 1265.1 L756.20 1265.3 L756.80 1265.3 L757.40 1265.3 L758.00 1264.4 L758.60 1264.9 L759.20 1264.8 L759.80 1263.2 L760.40 1265.3 L761.00 1265.2 L761.60 1264.3 L762.20 1265.3 L762.80 1265.3 L763.40 1265.1 L764.00 1265.3 L764.60 1265.1 L765.20 1265.2 L765.80 1264.6 L766.40 1264.5 L767.00 1265.2 L767.60 1264.4 L768.20 1264.9 L768.80 1265.3 L769.40 1263.0 L770.00 1265.2 L770.60 1265.3 L771.20 1265.3 L771.80 1264.4 L772.40 1263.4 L773.00 1263.8 L773.60 1265.0 L774.20 1265.2 L774.80 1265.3 L775.40 1264.4 L776.00 1264.6 L776.60 1265.1 L777.20 1264.4 L777.80 1264.9 L778.40 1263.0 L779.00 1264.0 L779.60 1265.2 L780.20 1263.2 L780.80 1265.3 L781.40 1264.7 L782.00 1265.0 L782.60 1265.2 L783.20 1265.3 L783.80 1263.9 L784.40 1265.3 L785.00 1264.7 L785.60 1263.0 L786.20 1265.3 L786.80 1265.2 L787.40 1264.5 L788.00 1264.8 L788.60 1264.4 L789.20 1263.7 L789.80 1265.3 L790.40 1265.1 L791.00 1265.2 L791.60 1265.3 L792.20 1263.3 L792.80 1263.9 L793.40 1264.1 L794.00 1265.3 L794.60 1263.6 L795.20 1264.0 L795.80 1264.9 L796.40 1264.0 L797.00 1264.9 L797.60 1265.2 L798.20 1265.3 L798.80 1265.2 L799.40 1265.3 L800.00 1265.1 L800.60 1264.0 L801.20 1264.2 L801.80 1263.6 L802.40 1264.2 L803.00 1265.2 L803.60 1264.7 L804.20 1265.0 L804.80 1263.9 L805.40 1264.8 L806.00 1265.2 L806.60 1264.4 L807.20 1263.0 L807.80 1265.2 L808.40 1263.4 L809.00 1265.3 L809.60 1265.2 L810.20 1265.2 L810.80 1264.1 L811.40 1263.1 L812.00 1264.1 L812.60 1265.1 L813.20 1263.5 L813.80 1265.1 L814.40 1265.2" stroke="#5eb6d5" stroke-width="2.3" fill="none" stroke-linejoin="round"/>
<path d="M120.50 1265.3 V1208.3 M122.50 1265.3 V1228.0 M126.60 1265.3 V875.5 M128.80 1265.3 V1224.0 M131.70 1265.3 V1187.6 M135.50 1265.3 V868.5 M138.00 1265.3 V1212.0 M140.30 1265.3 V1182.8 M142.50 1265.3 V1112.7 M146.60 1265.3 V1037.3 M155.50 1265.3 V1230.0 M158.70 1265.3 V1190.8 M162.50 1265.3 V1232.8 M165.00 1265.3 V1247.0 M168.00 1265.3 V1248.0 M177.50 1265.3 V1223.0 M183.50 1265.3 V1253.5 M189.60 1265.3 V1219.4 M194.40 1265.3 V1222.6 M197.00 1265.3 V1248.0 M213.50 1265.3 V1227.4 M223.00 1265.3 V1245.0 M239.90 1265.3 V1241.7 M242.00 1265.3 V1250.0 M250.90 1265.3 V1237.2 M254.00 1265.3 V1253.0 M262.90 1265.3 V1215.3 M272.60 1265.3 V1258.6 M285.30 1265.3 V1193.9 M290.60 1265.3 V1255.9 M298.60 1265.3 V1241.9 M325.30 1265.3 V1250.6 M332.30 1265.3 V1180.6 M335.00 1265.3 V1245.0 M337.00 1265.3 V1240.0 M339.50 1265.3 V810.5 M342.00 1265.3 V1242.0 M345.60 1265.3 V1033.6 M348.00 1265.3 V1250.0 M350.00 1265.3 V1255.0 M368.60 1265.3 V1254.6 M411.20 1265.3 V1241.2 M447.00 1265.3 V1260.0 M452.00 1265.3 V1258.5 M458.00 1265.3 V1259.0 M596.20 1265.3 V1258.9 M610.70 1265.3 V1154.6 M613.00 1265.3 V1258.0 M625.20 1265.3 V1258.2 M637.70 1265.3 V1245.9 M640.10 1265.3 V1252.4 M652.40 1265.3 V819.0 M655.00 1265.3 V1255.0 M657.50 1265.3 V1256.0 M661.00 1265.3 V1259.0 M679.40 1265.3 V1254.6 M759.50 1265.3 V1257.5" stroke="#5eb6d5" stroke-width="3.30" fill="none" stroke-linecap="butt"/>
<path d="M970.2 1266.8 H1662.8" stroke="#5eb6d5" stroke-width="3.3" fill="none"/>
<path d="M970.20 1263.8 L970.80 1264.9 L971.40 1266.4 L972.00 1253.8 L972.60 1266.6 L973.20 1263.1 L973.80 1252.7 L974.40 1266.6 L975.00 1262.2 L975.60 1260.2 L976.20 1266.6 L976.80 1264.1 L977.40 1254.7 L978.00 1262.1 L978.60 1252.7 L979.20 1266.2 L979.80 1265.6 L980.40 1266.4 L981.00 1260.7 L981.60 1241.8 L982.20 1258.1 L982.80 1250.4 L983.40 1263.6 L984.00 1251.7 L984.60 1266.5 L985.20 1265.0 L985.80 1255.0 L986.40 1252.7 L987.00 1262.8 L987.60 1266.5 L988.20 1265.3 L988.80 1265.9 L989.40 1265.2 L990.00 1248.5 L990.60 1266.0 L991.20 1244.1 L991.80 1244.6 L992.40 1266.6 L993.00 1263.7 L993.60 1261.1 L994.20 1266.6 L994.80 1262.8 L995.40 1242.9 L996.00 1266.4 L996.60 1257.9 L997.20 1266.4 L997.80 1258.5 L998.40 1243.6 L999.00 1265.9 L999.60 1266.6 L1000.20 1266.5 L1000.80 1259.8 L1001.40 1266.6 L1002.00 1266.5 L1002.60 1261.0 L1003.20 1242.0 L1003.80 1262.9 L1004.40 1263.3 L1005.00 1256.4 L1005.60 1266.5 L1006.20 1258.5 L1006.80 1266.2 L1007.40 1257.5 L1008.00 1239.5 L1008.60 1266.6 L1009.20 1259.3 L1009.80 1257.6 L1010.40 1266.3 L1011.00 1265.3 L1011.60 1237.0 L1012.20 1236.7 L1012.80 1266.4 L1013.40 1253.6 L1014.00 1240.0 L1014.60 1265.7 L1015.20 1257.4 L1015.80 1266.6 L1016.40 1263.9 L1017.00 1255.0 L1017.60 1258.1 L1018.20 1250.7 L1018.80 1266.5 L1019.40 1264.6 L1020.00 1250.1 L1020.60 1260.7 L1021.20 1263.7 L1021.80 1264.6 L1022.40 1251.6 L1023.00 1263.0 L1023.60 1266.6 L1024.20 1261.0 L1024.80 1266.1 L1025.40 1265.7 L1026.00 1266.4 L1026.60 1265.6 L1027.20 1266.1 L1027.80 1266.6 L1028.40 1264.4 L1029.00 1266.6 L1029.60 1262.8 L1030.20 1266.6 L1030.80 1262.9 L1031.40 1262.6 L1032.00 1265.4 L1032.60 1263.7 L1033.20 1266.4 L1033.80 1263.5 L1034.40 1265.8 L1035.00 1266.4 L1035.60 1260.7 L1036.20 1265.9 L1036.80 1266.0 L1037.40 1262.2 L1038.00 1266.0 L1038.60 1264.2 L1039.20 1266.5 L1039.80 1262.5 L1040.40 1266.4 L1041.00 1266.6 L1041.60 1260.9 L1042.20 1266.5 L1042.80 1261.3 L1043.40 1260.8 L1044.00 1264.8 L1044.60 1266.6 L1045.20 1266.6 L1045.80 1266.5 L1046.40 1266.0 L1047.00 1264.8 L1047.60 1261.3 L1048.20 1266.1 L1048.80 1266.5 L1049.40 1265.2 L1050.00 1266.6 L1050.60 1266.6 L1051.20 1265.2 L1051.80 1264.3 L1052.40 1266.6 L1053.00 1265.8 L1053.60 1264.3 L1054.20 1263.8 L1054.80 1266.1 L1055.40 1262.6 L1056.00 1266.5 L1056.60 1264.2 L1057.20 1263.8 L1057.80 1262.8 L1058.40 1265.6 L1059.00 1266.6 L1059.60 1266.6 L1060.20 1265.5 L1060.80 1266.5 L1061.40 1264.9 L1062.00 1266.6 L1062.60 1263.9 L1063.20 1266.5 L1063.80 1266.6 L1064.40 1266.5 L1065.00 1265.9 L1065.60 1265.4 L1066.20 1266.1 L1066.80 1266.5 L1067.40 1265.8 L1068.00 1262.5 L1068.60 1265.6 L1069.20 1262.6 L1069.80 1266.6 L1070.40 1262.2 L1071.00 1263.2 L1071.60 1265.6 L1072.20 1265.7 L1072.80 1265.6 L1073.40 1263.1 L1074.00 1266.6 L1074.60 1265.1 L1075.20 1265.6 L1075.80 1266.4 L1076.40 1264.7 L1077.00 1264.7 L1077.60 1266.6 L1078.20 1264.9 L1078.80 1266.0 L1079.40 1265.9 L1080.00 1265.2 L1080.60 1266.6 L1081.20 1264.9 L1081.80 1266.0 L1082.40 1261.3 L1083.00 1266.4 L1083.60 1261.1 L1084.20 1262.1 L1084.80 1263.2 L1085.40 1258.5 L1086.00 1266.6 L1086.60 1263.1 L1087.20 1262.9 L1087.80 1261.9 L1088.40 1265.2 L1089.00 1266.6 L1089.60 1266.4 L1090.20 1263.0 L1090.80 1266.4 L1091.40 1266.6 L1092.00 1265.6 L1092.60 1264.6 L1093.20 1263.9 L1093.80 1266.6 L1094.40 1260.1 L1095.00 1265.7 L1095.60 1259.9 L1096.20 1266.6 L1096.80 1255.9 L1097.40 1263.2 L1098.00 1255.3 L1098.60 1255.0 L1099.20 1258.9 L1099.80 1266.5 L1100.40 1265.7 L1101.00 1266.3 L1101.60 1261.4 L1102.20 1266.4 L1102.80 1266.4 L1103.40 1266.6 L1104.00 1266.6 L1104.60 1262.6 L1105.20 1262.8 L1105.80 1266.2 L1106.40 1264.6 L1107.00 1265.9 L1107.60 1265.7 L1108.20 1266.2 L1108.80 1265.2 L1109.40 1266.5 L1110.00 1266.4 L1110.60 1265.8 L1111.20 1266.5 L1111.80 1266.0 L1112.40 1263.0 L1113.00 1266.6 L1113.60 1266.6 L1114.20 1264.2 L1114.80 1266.6 L1115.40 1266.4 L1116.00 1263.7 L1116.60 1265.3 L1117.20 1266.5 L1117.80 1266.6 L1118.40 1266.4 L1119.00 1266.4 L1119.60 1264.1 L1120.20 1262.6 L1120.80 1264.2 L1121.40 1263.2 L1122.00 1263.0 L1122.60 1263.5 L1123.20 1263.1 L1123.80 1262.6 L1124.40 1266.6 L1125.00 1266.3 L1125.60 1266.4 L1126.20 1265.3 L1126.80 1265.8 L1127.40 1266.3 L1128.00 1263.7 L1128.60 1266.1 L1129.20 1266.5 L1129.80 1266.4 L1130.40 1265.9 L1131.00 1265.2 L1131.60 1265.4 L1132.20 1266.0 L1132.80 1266.5 L1133.40 1266.1 L1134.00 1266.3 L1134.60 1266.5 L1135.20 1265.5 L1135.80 1266.5 L1136.40 1264.6 L1137.00 1264.9 L1137.60 1266.6 L1138.20 1265.1 L1138.80 1266.3 L1139.40 1265.9 L1140.00 1265.2 L1140.60 1264.2 L1141.20 1263.1 L1141.80 1264.4 L1142.40 1266.5 L1143.00 1265.5 L1143.60 1266.3 L1144.20 1266.6 L1144.80 1265.5 L1145.40 1265.8 L1146.00 1263.2 L1146.60 1266.3 L1147.20 1263.5 L1147.80 1265.6 L1148.40 1266.6 L1149.00 1264.4 L1149.60 1266.4 L1150.20 1265.5 L1150.80 1266.6 L1151.40 1266.6 L1152.00 1262.6 L1152.60 1266.6 L1153.20 1266.5 L1153.80 1266.5 L1154.40 1266.6 L1155.00 1263.5 L1155.60 1261.7 L1156.20 1264.9 L1156.80 1266.1 L1157.40 1262.9 L1158.00 1265.6 L1158.60 1266.6 L1159.20 1264.6 L1159.80 1266.2 L1160.40 1266.4 L1161.00 1266.3 L1161.60 1266.1 L1162.20 1266.5 L1162.80 1265.1 L1163.40 1263.0 L1164.00 1265.3 L1164.60 1266.6 L1165.20 1264.6 L1165.80 1266.6 L1166.40 1265.7 L1167.00 1263.1 L1167.60 1264.6 L1168.20 1262.6 L1168.80 1264.1 L1169.40 1266.4 L1170.00 1266.6 L1170.60 1265.9 L1171.20 1264.6 L1171.80 1266.4 L1172.40 1266.2 L1173.00 1264.1 L1173.60 1266.2 L1174.20 1265.1 L1174.80 1265.4 L1175.40 1262.4 L1176.00 1266.6 L1176.60 1266.5 L1177.20 1264.4 L1177.80 1265.2 L1178.40 1266.6 L1179.00 1266.6 L1179.60 1266.5 L1180.20 1266.1 L1180.80 1265.0 L1181.40 1266.5 L1182.00 1266.6 L1182.60 1265.8 L1183.20 1266.3 L1183.80 1265.3 L1184.40 1264.6 L1185.00 1264.9 L1185.60 1265.7 L1186.20 1266.2 L1186.80 1266.6 L1187.40 1265.4 L1188.00 1266.4 L1188.60 1266.3 L1189.20 1265.9 L1189.80 1264.8 L1190.40 1266.1 L1191.00 1265.0 L1191.60 1264.8 L1192.20 1266.6 L1192.80 1266.4 L1193.40 1265.1 L1194.00 1265.5 L1194.60 1264.7 L1195.20 1266.6 L1195.80 1266.2 L1196.40 1264.9 L1197.00 1266.1 L1197.60 1265.8 L1198.20 1264.7 L1198.80 1266.6 L1199.40 1266.6 L1200.00 1265.2 L1200.60 1266.1 L1201.20 1266.6 L1201.80 1265.3 L1202.40 1266.5 L1203.00 1266.6 L1203.60 1266.5 L1204.20 1266.6 L1204.80 1266.4 L1205.40 1265.5 L1206.00 1266.3 L1206.60 1264.8 L1207.20 1266.6 L1207.80 1266.6 L1208.40 1266.6 L1209.00 1266.1 L1209.60 1266.6 L1210.20 1265.8 L1210.80 1266.2 L1211.40 1266.1 L1212.00 1265.3 L1212.60 1265.5 L1213.20 1265.0 L1213.80 1266.6 L1214.40 1266.4 L1215.00 1264.8 L1215.60 1266.4 L1216.20 1266.5 L1216.80 1266.3 L1217.40 1266.6 L1218.00 1265.3 L1218.60 1265.9 L1219.20 1266.6 L1219.80 1264.8 L1220.40 1266.2 L1221.00 1266.5 L1221.60 1266.0 L1222.20 1264.8 L1222.80 1266.4 L1223.40 1266.6 L1224.00 1266.6 L1224.60 1266.6 L1225.20 1266.2 L1225.80 1266.5 L1226.40 1265.2 L1227.00 1266.6 L1227.60 1266.6 L1228.20 1266.3 L1228.80 1266.6 L1229.40 1266.5 L1230.00 1266.5 L1230.60 1266.6 L1231.20 1265.9 L1231.80 1264.9 L1232.40 1266.4 L1233.00 1265.9 L1233.60 1266.5 L1234.20 1265.0 L1234.80 1266.1 L1235.40 1266.6 L1236.00 1265.6 L1236.60 1266.6 L1237.20 1266.6 L1237.80 1266.6 L1238.40 1265.3 L1239.00 1265.7 L1239.60 1266.4 L1240.20 1266.1 L1240.80 1265.7 L1241.40 1266.6 L1242.00 1265.7 L1242.60 1265.7 L1243.20 1264.9 L1243.80 1266.6 L1244.40 1266.1 L1245.00 1266.2 L1245.60 1265.3 L1246.20 1266.4 L1246.80 1265.9 L1247.40 1265.1 L1248.00 1266.4 L1248.60 1266.2 L1249.20 1265.1 L1249.80 1266.6 L1250.40 1264.7 L1251.00 1266.5 L1251.60 1266.3 L1252.20 1266.5 L1252.80 1265.4 L1253.40 1266.2 L1254.00 1265.6 L1254.60 1266.6 L1255.20 1265.1 L1255.80 1265.4 L1256.40 1265.8 L1257.00 1266.5 L1257.60 1266.5 L1258.20 1266.3 L1258.80 1266.6 L1259.40 1264.8 L1260.00 1266.4 L1260.60 1264.8 L1261.20 1266.6 L1261.80 1265.9 L1262.40 1265.4 L1263.00 1265.9 L1263.60 1266.3 L1264.20 1266.6 L1264.80 1266.3 L1265.40 1266.4 L1266.00 1264.9 L1266.60 1264.7 L1267.20 1264.8 L1267.80 1264.7 L1268.40 1266.6 L1269.00 1266.6 L1269.60 1266.5 L1270.20 1266.6 L1270.80 1266.6 L1271.40 1266.1 L1272.00 1266.6 L1272.60 1266.0 L1273.20 1266.4 L1273.80 1266.5 L1274.40 1264.7 L1275.00 1266.6 L1275.60 1265.1 L1276.20 1266.2 L1276.80 1265.9 L1277.40 1266.6 L1278.00 1265.6 L1278.60 1265.1 L1279.20 1266.6 L1279.80 1266.3 L1280.40 1265.9 L1281.00 1266.3 L1281.60 1265.6 L1282.20 1265.9 L1282.80 1266.5 L1283.40 1265.8 L1284.00 1265.5 L1284.60 1266.3 L1285.20 1266.0 L1285.80 1265.9 L1286.40 1266.3 L1287.00 1266.6 L1287.60 1266.4 L1288.20 1265.5 L1288.80 1265.7 L1289.40 1266.6 L1290.00 1266.3 L1290.60 1266.0 L1291.20 1266.2 L1291.80 1266.6 L1292.40 1265.9 L1293.00 1265.8 L1293.60 1266.2 L1294.20 1264.9 L1294.80 1266.1 L1295.40 1266.6 L1296.00 1266.5 L1296.60 1265.7 L1297.20 1266.6 L1297.80 1264.8 L1298.40 1265.8 L1299.00 1265.5 L1299.60 1266.6 L1300.20 1266.6 L1300.80 1265.2 L1301.40 1266.2 L1302.00 1266.3 L1302.60 1266.2 L1303.20 1265.5 L1303.80 1266.4 L1304.40 1265.5 L1305.00 1266.6 L1305.60 1264.7 L1306.20 1265.8 L1306.80 1266.5 L1307.40 1266.3 L1308.00 1265.1 L1308.60 1266.5 L1309.20 1265.8 L1309.80 1265.0 L1310.40 1264.8 L1311.00 1266.5 L1311.60 1265.4 L1312.20 1266.0 L1312.80 1265.4 L1313.40 1266.6 L1314.00 1266.4 L1314.60 1266.3 L1315.20 1265.4 L1315.80 1266.3 L1316.40 1266.6 L1317.00 1266.6 L1317.60 1265.3 L1318.20 1265.1 L1318.80 1266.1 L1319.40 1266.6 L1320.00 1265.5 L1320.60 1265.2 L1321.20 1266.5 L1321.80 1266.3 L1322.40 1266.5 L1323.00 1266.6 L1323.60 1265.6 L1324.20 1266.6 L1324.80 1266.6 L1325.40 1265.0 L1326.00 1266.6 L1326.60 1265.6 L1327.20 1265.4 L1327.80 1266.5 L1328.40 1266.4 L1329.00 1266.5 L1329.60 1265.7 L1330.20 1264.7 L1330.80 1265.6 L1331.40 1266.2 L1332.00 1266.1 L1332.60 1266.4 L1333.20 1265.7 L1333.80 1266.5 L1334.40 1266.5 L1335.00 1265.8 L1335.60 1266.5 L1336.20 1264.7 L1336.80 1265.7 L1337.40 1266.6 L1338.00 1266.6 L1338.60 1266.0 L1339.20 1266.6 L1339.80 1266.2 L1340.40 1266.0 L1341.00 1265.4 L1341.60 1266.4 L1342.20 1266.1 L1342.80 1265.4 L1343.40 1266.6 L1344.00 1266.5 L1344.60 1265.4 L1345.20 1266.4 L1345.80 1264.9 L1346.40 1266.6 L1347.00 1266.6 L1347.60 1266.4 L1348.20 1266.3 L1348.80 1266.4 L1349.40 1266.5 L1350.00 1266.3 L1350.60 1265.1 L1351.20 1264.9 L1351.80 1265.9 L1352.40 1266.5 L1353.00 1266.1 L1353.60 1266.6 L1354.20 1266.6 L1354.80 1265.4 L1355.40 1266.5 L1356.00 1266.6 L1356.60 1265.4 L1357.20 1266.6 L1357.80 1266.5 L1358.40 1266.6 L1359.00 1265.1 L1359.60 1265.8 L1360.20 1266.6 L1360.80 1266.6 L1361.40 1265.0 L1362.00 1266.6 L1362.60 1265.7 L1363.20 1265.8 L1363.80 1266.0 L1364.40 1266.3 L1365.00 1266.4 L1365.60 1266.5 L1366.20 1265.9 L1366.80 1266.6 L1367.40 1266.3 L1368.00 1266.5 L1368.60 1266.4 L1369.20 1265.1 L1369.80 1266.1 L1370.40 1265.9 L1371.00 1265.9 L1371.60 1266.6 L1372.20 1265.5 L1372.80 1265.1 L1373.40 1265.6 L1374.00 1266.2 L1374.60 1265.3 L1375.20 1264.9 L1375.80 1266.5 L1376.40 1266.6 L1377.00 1266.5 L1377.60 1266.6 L1378.20 1266.5 L1378.80 1266.6 L1379.40 1266.6 L1380.00 1266.4 L1380.60 1266.6 L1381.20 1266.3 L1381.80 1265.2 L1382.40 1265.7 L1383.00 1266.6 L1383.60 1265.7 L1384.20 1266.6 L1384.80 1265.4 L1385.40 1265.9 L1386.00 1266.1 L1386.60 1266.3 L1387.20 1264.7 L1387.80 1266.6 L1388.40 1265.1 L1389.00 1266.6 L1389.60 1266.6 L1390.20 1266.5 L1390.80 1266.6 L1391.40 1265.3 L1392.00 1266.6 L1392.60 1266.1 L1393.20 1266.5 L1393.80 1266.4 L1394.40 1265.5 L1395.00 1266.1 L1395.60 1266.5 L1396.20 1265.6 L1396.80 1266.6 L1397.40 1266.6 L1398.00 1265.8 L1398.60 1265.2 L1399.20 1265.5 L1399.80 1265.8 L1400.40 1264.9 L1401.00 1264.9 L1401.60 1266.1 L1402.20 1266.6 L1402.80 1266.1 L1403.40 1266.3 L1404.00 1265.7 L1404.60 1266.4 L1405.20 1266.6 L1405.80 1266.6 L1406.40 1266.6 L1407.00 1265.7 L1407.60 1265.8 L1408.20 1266.2 L1408.80 1266.5 L1409.40 1265.7 L1410.00 1266.3 L1410.60 1266.2 L1411.20 1266.6 L1411.80 1264.6 L1412.40 1266.3 L1413.00 1266.3 L1413.60 1266.6 L1414.20 1266.3 L1414.80 1266.3 L1415.40 1266.3 L1416.00 1265.6 L1416.60 1266.5 L1417.20 1266.0 L1417.80 1265.8 L1418.40 1266.6 L1419.00 1265.3 L1419.60 1266.6 L1420.20 1266.5 L1420.80 1265.3 L1421.40 1266.6 L1422.00 1266.5 L1422.60 1266.4 L1423.20 1264.9 L1423.80 1264.7 L1424.40 1266.5 L1425.00 1265.9 L1425.60 1265.3 L1426.20 1266.2 L1426.80 1266.5 L1427.40 1266.6 L1428.00 1266.6 L1428.60 1266.6 L1429.20 1266.6 L1429.80 1265.7 L1430.40 1266.0 L1431.00 1266.6 L1431.60 1264.9 L1432.20 1264.7 L1432.80 1266.4 L1433.40 1266.4 L1434.00 1265.1 L1434.60 1265.8 L1435.20 1265.6 L1435.80 1266.6 L1436.40 1265.7 L1437.00 1266.3 L1437.60 1266.6 L1438.20 1266.6 L1438.80 1266.5 L1439.40 1266.5 L1440.00 1266.5 L1440.60 1265.0 L1441.20 1266.4 L1441.80 1266.6 L1442.40 1266.6 L1443.00 1266.6 L1443.60 1266.4 L1444.20 1266.3 L1444.80 1266.6 L1445.40 1266.2 L1446.00 1266.4 L1446.60 1266.6 L1447.20 1266.3 L1447.80 1266.6 L1448.40 1266.6 L1449.00 1265.6 L1449.60 1266.3 L1450.20 1266.4 L1450.80 1266.1 L1451.40 1265.6 L1452.00 1265.9 L1452.60 1264.8 L1453.20 1265.7 L1453.80 1266.4 L1454.40 1264.8 L1455.00 1266.6 L1455.60 1266.6 L1456.20 1266.6 L1456.80 1266.4 L1457.40 1266.4 L1458.00 1266.4 L1458.60 1265.9 L1459.20 1266.4 L1459.80 1266.3 L1460.40 1265.8 L1461.00 1264.9 L1461.60 1264.8 L1462.20 1266.4 L1462.80 1266.4 L1463.40 1264.6 L1464.00 1265.3 L1464.60 1265.1 L1465.20 1266.6 L1465.80 1266.5 L1466.40 1266.3 L1467.00 1266.5 L1467.60 1266.3 L1468.20 1264.9 L1468.80 1266.4 L1469.40 1266.2 L1470.00 1266.5 L1470.60 1265.5 L1471.20 1265.3 L1471.80 1266.5 L1472.40 1266.6 L1473.00 1261.0 L1473.60 1258.4 L1474.20 1265.6 L1474.80 1266.3 L1475.40 1266.5 L1476.00 1262.2 L1476.60 1262.9 L1477.20 1254.9 L1477.80 1261.2 L1478.40 1263.0 L1479.00 1262.7 L1479.60 1255.8 L1480.20 1255.6 L1480.80 1266.4 L1481.40 1266.5 L1482.00 1266.5 L1482.60 1266.6 L1483.20 1257.6 L1483.80 1254.6 L1484.40 1264.1 L1485.00 1259.8 L1485.60 1261.8 L1486.20 1261.9 L1486.80 1265.2 L1487.40 1255.0 L1488.00 1265.8 L1488.60 1266.5 L1489.20 1266.6 L1489.80 1259.5 L1490.40 1259.7 L1491.00 1258.1 L1491.60 1259.3 L1492.20 1266.2 L1492.80 1265.5 L1493.40 1266.0 L1494.00 1258.0 L1494.60 1266.6 L1495.20 1265.9 L1495.80 1262.2 L1496.40 1262.5 L1497.00 1266.6 L1497.60 1266.5 L1498.20 1266.4 L1498.80 1266.3 L1499.40 1264.2 L1500.00 1266.6 L1500.60 1259.2 L1501.20 1264.7 L1501.80 1262.4 L1502.40 1265.6 L1503.00 1258.9 L1503.60 1266.6 L1504.20 1258.5 L1504.80 1266.2 L1505.40 1264.3 L1506.00 1263.8 L1506.60 1262.3 L1507.20 1264.0 L1507.80 1261.6 L1508.40 1266.6 L1509.00 1264.2 L1509.60 1264.5 L1510.20 1263.2 L1510.80 1266.5 L1511.40 1261.9 L1512.00 1266.6 L1512.60 1266.6 L1513.20 1266.6 L1513.80 1256.6 L1514.40 1266.5 L1515.00 1262.4 L1515.60 1266.6 L1516.20 1263.5 L1516.80 1266.3 L1517.40 1263.6 L1518.00 1261.7 L1518.60 1262.6 L1519.20 1264.3 L1519.80 1262.1 L1520.40 1266.6 L1521.00 1266.6 L1521.60 1266.3 L1522.20 1265.2 L1522.80 1261.7 L1523.40 1266.6 L1524.00 1266.4 L1524.60 1264.7 L1525.20 1266.0 L1525.80 1266.6 L1526.40 1266.2 L1527.00 1266.6 L1527.60 1266.6 L1528.20 1261.3 L1528.80 1266.1 L1529.40 1263.1 L1530.00 1266.3 L1530.60 1263.0 L1531.20 1261.2 L1531.80 1266.6 L1532.40 1264.5 L1533.00 1261.1 L1533.60 1263.0 L1534.20 1266.6 L1534.80 1263.6 L1535.40 1263.4 L1536.00 1266.5 L1536.60 1264.4 L1537.20 1264.7 L1537.80 1266.5 L1538.40 1263.1 L1539.00 1262.8 L1539.60 1266.6 L1540.20 1265.8 L1540.80 1265.2 L1541.40 1266.6 L1542.00 1265.6 L1542.60 1262.7 L1543.20 1266.3 L1543.80 1265.8 L1544.40 1263.1 L1545.00 1263.7 L1545.60 1262.9 L1546.20 1266.6 L1546.80 1262.1 L1547.40 1266.3 L1548.00 1266.2 L1548.60 1266.5 L1549.20 1263.5 L1549.80 1265.1 L1550.40 1265.8 L1551.00 1265.6 L1551.60 1265.4 L1552.20 1265.0 L1552.80 1266.5 L1553.40 1263.8 L1554.00 1266.3 L1554.60 1266.6 L1555.20 1260.5 L1555.80 1266.6 L1556.40 1262.5 L1557.00 1262.8 L1557.60 1265.6 L1558.20 1264.3 L1558.80 1266.3 L1559.40 1266.4 L1560.00 1260.7 L1560.60 1262.7 L1561.20 1262.6 L1561.80 1265.5 L1562.40 1266.6 L1563.00 1262.9 L1563.60 1260.7 L1564.20 1266.2 L1564.80 1264.6 L1565.40 1266.5 L1566.00 1261.5 L1566.60 1264.2 L1567.20 1266.6 L1567.80 1264.5 L1568.40 1264.8 L1569.00 1266.0 L1569.60 1265.5 L1570.20 1263.3 L1570.80 1265.1 L1571.40 1266.0 L1572.00 1263.6 L1572.60 1265.6 L1573.20 1265.1 L1573.80 1266.0 L1574.40 1265.5 L1575.00 1265.5 L1575.60 1266.2 L1576.20 1266.3 L1576.80 1266.6 L1577.40 1265.9 L1578.00 1265.7 L1578.60 1266.4 L1579.20 1266.6 L1579.80 1265.7 L1580.40 1265.9 L1581.00 1265.9 L1581.60 1266.6 L1582.20 1265.1 L1582.80 1265.7 L1583.40 1265.5 L1584.00 1266.6 L1584.60 1266.5 L1585.20 1266.2 L1585.80 1266.6 L1586.40 1264.8 L1587.00 1266.6 L1587.60 1266.6 L1588.20 1265.5 L1588.80 1266.5 L1589.40 1266.1 L1590.00 1265.9 L1590.60 1266.6 L1591.20 1266.6 L1591.80 1265.8 L1592.40 1265.2 L1593.00 1265.5 L1593.60 1266.6 L1594.20 1266.5 L1594.80 1266.3 L1595.40 1266.6 L1596.00 1265.2 L1596.60 1265.4 L1597.20 1264.9 L1597.80 1265.1 L1598.40 1265.4 L1599.00 1266.5 L1599.60 1265.9 L1600.20 1265.3 L1600.80 1266.6 L1601.40 1266.6 L1602.00 1264.8 L1602.60 1266.6 L1603.20 1265.2 L1603.80 1266.4 L1604.40 1266.5 L1605.00 1266.4 L1605.60 1265.3 L1606.20 1266.0 L1606.80 1266.6 L1607.40 1265.5 L1608.00 1266.5 L1608.60 1265.5 L1609.20 1266.3 L1609.80 1265.4 L1610.40 1266.2 L1611.00 1266.5 L1611.60 1264.9 L1612.20 1264.9 L1612.80 1266.2 L1613.40 1266.2 L1614.00 1266.1 L1614.60 1265.9 L1615.20 1266.5 L1615.80 1265.2 L1616.40 1266.4 L1617.00 1264.9 L1617.60 1266.1 L1618.20 1265.2 L1618.80 1265.2 L1619.40 1266.5 L1620.00 1266.6 L1620.60 1266.1 L1621.20 1266.2 L1621.80 1266.5 L1622.40 1266.5 L1623.00 1266.5 L1623.60 1266.6 L1624.20 1266.3 L1624.80 1266.3 L1625.40 1266.4 L1626.00 1265.5 L1626.60 1266.4 L1627.20 1265.8 L1627.80 1265.8 L1628.40 1266.3 L1629.00 1266.3 L1629.60 1266.6 L1630.20 1265.9 L1630.80 1265.4 L1631.40 1265.1 L1632.00 1265.7 L1632.60 1265.1 L1633.20 1266.2 L1633.80 1266.4 L1634.40 1265.1 L1635.00 1266.0 L1635.60 1266.6 L1636.20 1265.5 L1636.80 1266.1 L1637.40 1265.5 L1638.00 1266.4 L1638.60 1266.1 L1639.20 1266.1 L1639.80 1266.1 L1640.40 1265.5 L1641.00 1266.4 L1641.60 1266.0 L1642.20 1265.3 L1642.80 1266.6 L1643.40 1265.5 L1644.00 1266.0 L1644.60 1266.4 L1645.20 1266.6 L1645.80 1266.3 L1646.40 1266.6 L1647.00 1266.6 L1647.60 1266.3 L1648.20 1266.1 L1648.80 1265.3 L1649.40 1266.1 L1650.00 1265.8 L1650.60 1266.3 L1651.20 1266.6 L1651.80 1266.5 L1652.40 1266.6 L1653.00 1266.2 L1653.60 1266.5 L1654.20 1266.2 L1654.80 1266.5 L1655.40 1266.6 L1656.00 1266.6 L1656.60 1265.4 L1657.20 1266.4 L1657.80 1266.1 L1658.40 1266.3 L1659.00 1266.4 L1659.60 1266.0 L1660.20 1265.5 L1660.80 1266.1 L1661.40 1265.8 L1662.00 1266.5 L1662.60 1266.5" stroke="#5eb6d5" stroke-width="2.3" fill="none" stroke-linejoin="round"/>
<path d="M974.30 1266.6 V1249.5 M976.30 1266.6 V1257.0 M981.30 1266.6 V1233.5 M983.40 1266.6 V1211.0 M988.30 1266.6 V1228.8 M991.30 1266.6 V1206.3 M996.70 1266.6 V932.8 M1000.00 1266.6 V1222.3 M1005.80 1266.6 V1237.0 M1008.50 1266.6 V1216.7 M1010.50 1266.6 V1248.0 M1014.40 1266.6 V1236.5 M1020.40 1266.6 V1256.0 M1022.60 1266.6 V1260.0 M1032.40 1266.6 V1225.2 M1041.00 1266.6 V1260.0 M1048.00 1266.6 V1261.0 M1054.00 1266.6 V1260.0 M1060.20 1266.6 V1250.5 M1084.80 1266.6 V1244.3 M1088.30 1266.6 V1062.0 M1091.40 1266.6 V1203.4 M1094.00 1266.6 V1240.0 M1097.30 1266.6 V1234.5 M1101.00 1266.6 V1254.0 M1108.50 1266.6 V1246.3 M1114.50 1266.6 V1255.6 M1138.60 1266.6 V1254.9 M1155.50 1266.6 V1260.7 M1161.50 1266.6 V1198.0 M1166.00 1266.6 V1212.5 M1169.20 1266.6 V1256.2 M1174.30 1266.6 V1248.9 M1188.00 1266.6 V1242.3 M1205.40 1266.6 V1259.4 M1248.80 1266.6 V1232.8 M1253.10 1266.6 V1228.0 M1258.40 1266.6 V1260.2 M1326.00 1266.6 V1256.2 M1350.90 1266.6 V1257.8 M1452.60 1266.6 V1226.8 M1475.80 1266.6 V1251.6 M1478.80 1266.6 V1248.6 M1481.80 1266.6 V810.4 M1486.80 1266.6 V1230.6 M1490.10 1266.6 V1248.6 M1494.30 1266.6 V1241.9 M1499.10 1266.6 V1259.1 M1504.50 1266.6 V1160.8 M1508.70 1266.6 V1147.5 M1513.70 1266.6 V1232.9 M1517.10 1266.6 V1255.4 M1522.00 1266.6 V1258.0 M1528.80 1266.6 V1252.4 M1534.00 1266.6 V1259.0 M1540.40 1266.6 V1259.1 M1558.50 1266.6 V1065.5 M1563.40 1266.6 V1255.4 M1570.90 1266.6 V1259.1 M1590.00 1266.6 V1262.0 M1606.00 1266.6 V1262.0" stroke="#5eb6d5" stroke-width="3.30" fill="none" stroke-linecap="butt"/>
<g stroke="#1e1a1a" stroke-width="3.3" fill="none">
<path d="M322.5 784.6 L339.8 806.2"/>
<path d="M622.2 803.0 L651.9 819.0"/>
<path d="M178.8 1041.7 L190.9 1220.8"/>
<path d="M262.3 971.8 L194.8 1220.8"/>
<path d="M302.6 908.8 L238.4 1237.7"/>
<path d="M366.1 875.2 L285.2 1188.3"/>
<path d="M397.5 953.9 L345.2 1027.3"/>
<path d="M409.9 1042.9 L333.2 1176.6"/>
<path d="M393.2 1143.8 L336.2 1237.5"/>
<path d="M403.7 1218.0 L347.3 1240.0"/>
<path d="M1061.1 1014.3 L1088.0 1055.5"/>
<path d="M1158.0 935.3 L1091.8 1199.5"/>
<path d="M1212.5 1048.5 L1161.9 1193.4"/>
<path d="M1245.8 1114.6 L1166.0 1211.1"/>
<path d="M1277.7 1164.2 L1187.7 1240.4"/>
<path d="M1446.5 953.0 L1503.8 1158.5"/>
<path d="M1550.3 1030.7 L1508.5 1145.5"/>
<path d="M1603.2 1044.6 L1558.2 1065.3"/>
</g>
<text transform="translate(-4.60 40.00)" font-family="'Liberation Sans', Arial, sans-serif" fill="#1e1a1a" stroke="#1e1a1a" stroke-width="0.50" style="font-kerning:none" xml:space="preserve"><tspan font-size="72.5">a</tspan></text>
<text transform="translate(114.22 83.00) scale(0.9600 1)" font-family="'Liberation Sans', Arial, sans-serif" fill="#1e1a1a" stroke="#1e1a1a" stroke-width="0.50" style="font-kerning:none" xml:space="preserve"><tspan font-size="37.5">0.5</tspan></text>
<text transform="translate(113.74 162.56) scale(0.9600 1)" font-family="'Liberation Sans', Arial, sans-serif" fill="#1e1a1a" stroke="#1e1a1a" stroke-width="0.50" style="font-kerning:none" xml:space="preserve"><tspan font-size="37.5">0.4</tspan></text>
<text transform="translate(114.22 242.12) scale(0.9600 1)" font-family="'Liberation Sans', Arial, sans-serif" fill="#1e1a1a" stroke="#1e1a1a" stroke-width="0.50" style="font-kerning:none" xml:space="preserve"><tspan font-size="37.5">0.3</tspan></text>
<text transform="translate(114.46 321.68) scale(0.9600 1)" font-family="'Liberation Sans', Arial, sans-serif" fill="#1e1a1a" stroke="#1e1a1a" stroke-width="0.50" style="font-kerning:none" xml:space="preserve"><tspan font-size="37.5">0.2</tspan></text>
<text transform="translate(114.46 401.24) scale(0.9600 1)" font-family="'Liberation Sans', Arial, sans-serif" fill="#1e1a1a" stroke="#1e1a1a" stroke-width="0.50" style="font-kerning:none" xml:space="preserve"><tspan font-size="37.5">0.1</tspan></text>
<text transform="translate(143.98 480.80) scale(0.9600 1)" font-family="'Liberation Sans', Arial, sans-serif" fill="#1e1a1a" stroke="#1e1a1a" stroke-width="0.50" style="font-kerning:none" xml:space="preserve"><tspan font-size="37.5">0</tspan></text>
<text transform="translate(191.72 521.60) scale(0.9600 1)" font-family="'Liberation Sans', Arial, sans-serif" fill="#1e1a1a" stroke="#1e1a1a" stroke-width="0.50" style="font-kerning:none" xml:space="preserve"><tspan font-size="37.5">0</tspan></text>
<text transform="translate(270.01 521.60) scale(0.9600 1)" font-family="'Liberation Sans', Arial, sans-serif" fill="#1e1a1a" stroke="#1e1a1a" stroke-width="0.50" style="font-kerning:none" xml:space="preserve"><tspan font-size="37.5">1</tspan></text>
<text transform="translate(349.14 521.60) scale(0.9600 1)" font-family="'Liberation Sans', Arial, sans-serif" fill="#1e1a1a" stroke="#1e1a1a" stroke-width="0.50" style="font-kerning:none" xml:space="preserve"><tspan font-size="37.5">2</tspan></text>
<text transform="translate(427.79 521.60) scale(0.9600 1)" font-family="'Liberation Sans', Arial, sans-serif" fill="#1e1a1a" stroke="#1e1a1a" stroke-width="0.50" style="font-kerning:none" xml:space="preserve"><tspan font-size="37.5">3</tspan></text>
<text transform="translate(506.56 521.60) scale(0.9600 1)" font-family="'Liberation Sans', Arial, sans-serif" fill="#1e1a1a" stroke="#1e1a1a" stroke-width="0.50" style="font-kerning:none" xml:space="preserve"><tspan font-size="37.5">4</tspan></text>
<text transform="translate(585.09 521.60) scale(0.9600 1)" font-family="'Liberation Sans', Arial, sans-serif" fill="#1e1a1a" stroke="#1e1a1a" stroke-width="0.50" style="font-kerning:none" xml:space="preserve"><tspan font-size="37.5">5</tspan></text>
<text transform="translate(663.62 521.60) scale(0.9600 1)" font-family="'Liberation Sans', Arial, sans-serif" fill="#1e1a1a" stroke="#1e1a1a" stroke-width="0.50" style="font-kerning:none" xml:space="preserve"><tspan font-size="37.5">6</tspan></text>
<text transform="translate(742.39 521.60) scale(0.9600 1)" font-family="'Liberation Sans', Arial, sans-serif" fill="#1e1a1a" stroke="#1e1a1a" stroke-width="0.50" style="font-kerning:none" xml:space="preserve"><tspan font-size="37.5">7</tspan></text>
<text transform="translate(821.04 521.60) scale(0.9600 1)" font-family="'Liberation Sans', Arial, sans-serif" fill="#1e1a1a" stroke="#1e1a1a" stroke-width="0.50" style="font-kerning:none" xml:space="preserve"><tspan font-size="37.5">8</tspan></text>
<text transform="translate(899.57 521.60) scale(0.9600 1)" font-family="'Liberation Sans', Arial, sans-serif" fill="#1e1a1a" stroke="#1e1a1a" stroke-width="0.50" style="font-kerning:none" xml:space="preserve"><tspan font-size="37.5">9</tspan></text>
<text transform="translate(967.66 521.60) scale(0.9600 1)" font-family="'Liberation Sans', Arial, sans-serif" fill="#1e1a1a" stroke="#1e1a1a" stroke-width="0.50" style="font-kerning:none" xml:space="preserve"><tspan font-size="37.5">10</tspan></text>
<text transform="translate(1046.43 521.60) scale(0.9600 1)" font-family="'Liberation Sans', Arial, sans-serif" fill="#1e1a1a" stroke="#1e1a1a" stroke-width="0.50" style="font-kerning:none" xml:space="preserve"><tspan font-size="37.5">11</tspan></text>
<text transform="translate(1125.08 521.60) scale(0.9600 1)" font-family="'Liberation Sans', Arial, sans-serif" fill="#1e1a1a" stroke="#1e1a1a" stroke-width="0.50" style="font-kerning:none" xml:space="preserve"><tspan font-size="37.5">12</tspan></text>
<text transform="translate(1203.61 521.60) scale(0.9600 1)" font-family="'Liberation Sans', Arial, sans-serif" fill="#1e1a1a" stroke="#1e1a1a" stroke-width="0.50" style="font-kerning:none" xml:space="preserve"><tspan font-size="37.5">13</tspan></text>
<text transform="translate(1282.02 521.60) scale(0.9600 1)" font-family="'Liberation Sans', Arial, sans-serif" fill="#1e1a1a" stroke="#1e1a1a" stroke-width="0.50" style="font-kerning:none" xml:space="preserve"><tspan font-size="37.5">14</tspan></text>
<text transform="translate(1360.91 521.60) scale(0.9600 1)" font-family="'Liberation Sans', Arial, sans-serif" fill="#1e1a1a" stroke="#1e1a1a" stroke-width="0.50" style="font-kerning:none" xml:space="preserve"><tspan font-size="37.5">15</tspan></text>
<text transform="translate(1439.56 521.60) scale(0.9600 1)" font-family="'Liberation Sans', Arial, sans-serif" fill="#1e1a1a" stroke="#1e1a1a" stroke-width="0.50" style="font-kerning:none" xml:space="preserve"><tspan font-size="37.5">16</tspan></text>
<text transform="translate(85.00 435.09) rotate(-90) scale(0.9642 1)" font-family="'Liberation Sans', Arial, sans-serif" fill="#1e1a1a" stroke="#1e1a1a" stroke-width="0.50" style="font-kerning:none" xml:space="preserve"><tspan font-size="37.8">Relative abundance</tspan></text>
<text transform="translate(718.20 583.90) scale(0.9678 1)" font-family="'Liberation Sans', Arial, sans-serif" fill="#1e1a1a" stroke="#1e1a1a" stroke-width="0.50" style="font-kerning:none" xml:space="preserve"><tspan font-size="37.8">Retention time (min)</tspan></text>
<text transform="translate(365.76 183.20) scale(0.9742 1)" font-family="'Liberation Sans', Arial, sans-serif" fill="#1e1a1a" stroke="#1e1a1a" stroke-width="0.50" style="font-kerning:none" xml:space="preserve"><tspan font-size="37.5">m</tspan><tspan font-size="21.9" dy="-12.56">1</tspan><tspan font-size="37.5" dy="12.56">A</tspan></text>
<text transform="translate(550.27 133.20) scale(0.9694 1)" font-family="'Liberation Sans', Arial, sans-serif" fill="#1e1a1a" stroke="#1e1a1a" stroke-width="0.50" style="font-kerning:none" xml:space="preserve"><tspan font-size="37.5">T</tspan></text>
<text transform="translate(266.31 282.60) scale(0.9978 1)" font-family="'Liberation Sans', Arial, sans-serif" fill="#1e1a1a" stroke="#1e1a1a" stroke-width="0.50" style="font-kerning:none" xml:space="preserve"><tspan font-size="37.5">D</tspan></text>
<text transform="translate(359.00 316.40) scale(0.9736 1)" font-family="'Liberation Serif', 'Times New Roman', serif" fill="#1e1a1a" stroke="#1e1a1a" stroke-width="0.50" style="font-kerning:none" xml:space="preserve"><tspan font-size="36">Ψ</tspan></text>
<text transform="translate(621.13 293.60) scale(0.9818 1)" font-family="'Liberation Sans', Arial, sans-serif" fill="#1e1a1a" stroke="#1e1a1a" stroke-width="0.50" style="font-kerning:none" xml:space="preserve"><tspan font-size="37.5">oQ</tspan></text>
<text transform="translate(671.12 330.90) scale(0.9592 1)" font-family="'Liberation Sans', Arial, sans-serif" fill="#1e1a1a" stroke="#1e1a1a" stroke-width="0.50" style="font-kerning:none" xml:space="preserve"><tspan font-size="37.5">Q</tspan></text>
<text transform="translate(694.84 369.60) scale(0.9585 1)" font-family="'Liberation Sans', Arial, sans-serif" fill="#1e1a1a" stroke="#1e1a1a" stroke-width="0.50" style="font-kerning:none" xml:space="preserve"><tspan font-size="37.5">s</tspan><tspan font-size="21.9" dy="-12.56">4</tspan><tspan font-size="37.5" dy="12.56">U</tspan></text>
<text transform="translate(1206.48 199.30) scale(0.9690 1)" font-family="'Liberation Sans', Arial, sans-serif" fill="#1e1a1a" stroke="#1e1a1a" stroke-width="0.50" style="font-kerning:none" xml:space="preserve"><tspan font-size="37.5">ms</tspan><tspan font-size="21.9" dy="-12.56">2</tspan><tspan font-size="37.5" dy="12.56">io</tspan><tspan font-size="21.9" dy="-12.56">6</tspan><tspan font-size="37.5" dy="12.56">A</tspan></text>
<text transform="translate(-3.10 699.30) scale(1.0656 1)" font-family="'Liberation Sans', Arial, sans-serif" fill="#1e1a1a" stroke="#1e1a1a" stroke-width="0.50" style="font-kerning:none" xml:space="preserve"><tspan font-size="72.5">b</tspan></text>
<text transform="translate(135.11 693.60) scale(0.9560 1)" font-family="'Liberation Sans', Arial, sans-serif" fill="#1e1a1a" stroke="#1e1a1a" stroke-width="0.30" style="font-kerning:none" xml:space="preserve"><tspan font-size="53.2">Tyr RNaseT</tspan><tspan font-size="31" dy="17.72">1</tspan><tspan font-size="53.2" dy="-17.72"> digest</tspan></text>
<text transform="translate(970.40 694.00) scale(0.9573 1)" font-family="'Liberation Sans', Arial, sans-serif" fill="#1e1a1a" stroke="#1e1a1a" stroke-width="0.30" style="font-kerning:none" xml:space="preserve"><tspan font-size="53.2">Tyr RNase A digest</tspan></text>
<text transform="translate(158.85 756.60) scale(0.9784 1)" font-family="'Liberation Sans', Arial, sans-serif" fill="#1e1a1a" style="font-kerning:none" xml:space="preserve"><tspan font-size="33">1938.6</tspan></text>
<text transform="translate(158.60 795.60) scale(0.9826 1)" font-family="'Liberation Sans', Arial, sans-serif" fill="#1e1a1a" style="font-kerning:none" xml:space="preserve"><tspan font-size="33">AAUCCGp</tspan></text>
<text transform="translate(508.18 761.50) scale(0.9756 1)" font-family="'Liberation Sans', Arial, sans-serif" fill="#1e1a1a" style="font-kerning:none" xml:space="preserve"><tspan font-size="33">3955.0</tspan></text>
<text transform="translate(508.14 800.20) scale(0.9821 1)" font-family="'Liberation Sans', Arial, sans-serif" fill="#1e1a1a" style="font-kerning:none" xml:space="preserve"><tspan font-size="33">UCCCCCUCCACCA</tspan></text>
<text transform="translate(216.66 844.70) scale(0.9742 1)" font-family="'Liberation Sans', Arial, sans-serif" fill="#1e1a1a" style="font-kerning:none" xml:space="preserve"><tspan font-size="33">1295.3</tspan></text>
<text transform="translate(216.16 883.80) scale(0.9822 1)" font-family="'Liberation Sans', Arial, sans-serif" fill="#1e1a1a" style="font-kerning:none" xml:space="preserve"><tspan font-size="33">TUCGp</tspan></text>
<text transform="translate(369.36 830.80) scale(0.9773 1)" font-family="'Liberation Sans', Arial, sans-serif" fill="#1e1a1a" style="font-kerning:none" xml:space="preserve"><tspan font-size="33">1585.5</tspan></text>
<text transform="translate(368.32 869.60) scale(0.9839 1)" font-family="'Liberation Sans', Arial, sans-serif" fill="#1e1a1a" style="font-kerning:none" xml:space="preserve"><tspan font-size="33">CUCCGp</tspan></text>
<text transform="translate(204.72 921.00) scale(0.9874 1)" font-family="'Liberation Sans', Arial, sans-serif" fill="#1e1a1a" style="font-kerning:none" xml:space="preserve"><tspan font-size="33">998.2</tspan></text>
<text transform="translate(205.14 960.10) scale(0.9759 1)" font-family="'Liberation Sans', Arial, sans-serif" fill="#1e1a1a" style="font-kerning:none" xml:space="preserve"><tspan font-size="33">CAGp</tspan></text>
<text transform="translate(397.15 912.00) scale(0.9807 1)" font-family="'Liberation Sans', Arial, sans-serif" fill="#c9582f" style="font-kerning:none" xml:space="preserve"><tspan font-size="34.4">1975.3</tspan></text>
<text transform="translate(396.06 952.50) scale(0.9935 1)" font-family="'Liberation Sans', Arial, sans-serif" fill="#c9582f" style="font-kerning:none" xml:space="preserve"><tspan font-size="34.4">CCAAm</tspan><tspan font-size="19.95" dy="-11.52">1</tspan><tspan font-size="34.4" dy="11.52">AGp</tspan></text>
<text transform="translate(146.53 990.30) scale(0.9811 1)" font-family="'Liberation Sans', Arial, sans-serif" fill="#1e1a1a" style="font-kerning:none" xml:space="preserve"><tspan font-size="33">974.2</tspan></text>
<text transform="translate(146.23 1029.30) scale(0.9780 1)" font-family="'Liberation Sans', Arial, sans-serif" fill="#1e1a1a" style="font-kerning:none" xml:space="preserve"><tspan font-size="33">CCGp</tspan></text>
<text transform="translate(426.67 988.10) scale(0.9722 1)" font-family="'Liberation Sans', Arial, sans-serif" fill="#1e1a1a" style="font-kerning:none" xml:space="preserve"><tspan font-size="33">1891.5</tspan></text>
<text transform="translate(425.72 1027.30) scale(0.9847 1)" font-family="'Liberation Sans', Arial, sans-serif" fill="#1e1a1a" style="font-kerning:none" xml:space="preserve"><tspan font-size="33">CCUUCGp</tspan></text>
<text transform="translate(424.32 1066.00) scale(0.9934 1)" font-family="'Liberation Sans', Arial, sans-serif" fill="#1e1a1a" style="font-kerning:none" xml:space="preserve"><tspan font-size="33">UUCCCGp</tspan></text>
<text transform="translate(400.65 1094.50) scale(0.9802 1)" font-family="'Liberation Sans', Arial, sans-serif" fill="#c9582f" style="font-kerning:none" xml:space="preserve"><tspan font-size="34.4">1923.2</tspan></text>
<text transform="translate(399.71 1134.90) scale(0.9913 1)" font-family="'Liberation Sans', Arial, sans-serif" fill="#c9582f" style="font-kerning:none" xml:space="preserve"><tspan font-size="34.4">s</tspan><tspan font-size="19.95" dy="-11.52">4</tspan><tspan font-size="34.4" dy="11.52">Us</tspan><tspan font-size="19.95" dy="-11.52">4</tspan><tspan font-size="34.4" dy="11.52">UCCCGp</tspan></text>
<text transform="translate(413.83 1166.50) scale(0.9886 1)" font-family="'Liberation Sans', Arial, sans-serif" fill="#c9582f" style="font-kerning:none" xml:space="preserve"><tspan font-size="34.4">1907.5</tspan></text>
<text transform="translate(413.61 1206.90) scale(0.9872 1)" font-family="'Liberation Sans', Arial, sans-serif" fill="#c9582f" style="font-kerning:none" xml:space="preserve"><tspan font-size="34.4">s</tspan><tspan font-size="19.95" dy="-11.52">4</tspan><tspan font-size="34.4" dy="11.52">UUCCCGp</tspan></text>
<text transform="translate(413.43 1247.90) scale(0.9882 1)" font-family="'Liberation Sans', Arial, sans-serif" fill="#c9582f" style="font-kerning:none" xml:space="preserve"><tspan font-size="34.4">Us</tspan><tspan font-size="19.95" dy="-11.52">4</tspan><tspan font-size="34.4" dy="11.52">UCCCGp</tspan></text>
<text transform="translate(1108.63 879.30) scale(0.9881 1)" font-family="'Liberation Sans', Arial, sans-serif" fill="#c9582f" style="font-kerning:none" xml:space="preserve"><tspan font-size="34.4">1029.2</tspan></text>
<text transform="translate(1108.17 919.60) scale(0.9901 1)" font-family="'Liberation Sans', Arial, sans-serif" fill="#c9582f" style="font-kerning:none" xml:space="preserve"><tspan font-size="34.4">GGTp</tspan></text>
<text transform="translate(1244.13 884.60) scale(0.9831 1)" font-family="'Liberation Sans', Arial, sans-serif" fill="#1e1a1a" style="font-kerning:none" xml:space="preserve"><tspan font-size="33">2804.7</tspan></text>
<text transform="translate(1243.93 923.70) scale(0.9861 1)" font-family="'Liberation Sans', Arial, sans-serif" fill="#1e1a1a" style="font-kerning:none" xml:space="preserve"><tspan font-size="33">pGGAGGGGUp</tspan></text>
<text transform="translate(1014.04 959.30) scale(0.9829 1)" font-family="'Liberation Sans', Arial, sans-serif" fill="#1e1a1a" style="font-kerning:none" xml:space="preserve"><tspan font-size="33">1014.2</tspan></text>
<text transform="translate(1013.83 998.50) scale(0.9796 1)" font-family="'Liberation Sans', Arial, sans-serif" fill="#1e1a1a" style="font-kerning:none" xml:space="preserve"><tspan font-size="33">GGCp</tspan></text>
<text transform="translate(1172.58 988.80) scale(0.9692 1)" font-family="'Liberation Sans', Arial, sans-serif" fill="#1e1a1a" style="font-kerning:none" xml:space="preserve"><tspan font-size="33">1328.4</tspan></text>
<text transform="translate(1172.12 1027.60) scale(0.9853 1)" font-family="'Liberation Sans', Arial, sans-serif" fill="#1e1a1a" style="font-kerning:none" xml:space="preserve"><tspan font-size="33">GAAUp</tspan></text>
<text transform="translate(1522.66 968.70) scale(0.9916 1)" font-family="'Liberation Sans', Arial, sans-serif" fill="#c9582f" style="font-kerning:none" xml:space="preserve"><tspan font-size="34.4">2820.7</tspan></text>
<text transform="translate(1522.06 1009.00) scale(0.9943 1)" font-family="'Liberation Sans', Arial, sans-serif" fill="#c9582f" style="font-kerning:none" xml:space="preserve"><tspan font-size="34.4">pGGAGGGGs</tspan><tspan font-size="19.95" dy="-11.52">4</tspan><tspan font-size="34.4" dy="11.52">Up</tspan></text>
<text transform="translate(1613.07 1047.00) scale(0.9844 1)" font-family="'Liberation Sans', Arial, sans-serif" fill="#c9582f" style="font-kerning:none" xml:space="preserve"><tspan font-size="34.4">3034.8</tspan></text>
<text transform="translate(1613.10 1087.90) scale(0.9947 1)" font-family="'Liberation Sans', Arial, sans-serif" fill="#c9582f" style="font-kerning:none" xml:space="preserve"><tspan font-size="34.4">AAm</tspan><tspan font-size="19.95" dy="-11.52">1</tspan><tspan font-size="34.4" dy="11.52">AGGAGCp</tspan></text>
<text transform="translate(1254.54 1076.20) scale(0.9847 1)" font-family="'Liberation Sans', Arial, sans-serif" fill="#c9582f" style="font-kerning:none" xml:space="preserve"><tspan font-size="34.4">1346.3</tspan></text>
<text transform="translate(1253.87 1116.80) scale(0.9868 1)" font-family="'Liberation Sans', Arial, sans-serif" fill="#c9582f" style="font-kerning:none" xml:space="preserve"><tspan font-size="34.4">GAGDp</tspan></text>
<text transform="translate(1287.45 1154.70) scale(0.9817 1)" font-family="'Liberation Sans', Arial, sans-serif" fill="#c9582f" style="font-kerning:none" xml:space="preserve"><tspan font-size="34.4">1442.3</tspan></text>
<text transform="translate(1287.00 1195.60) scale(0.9894 1)" font-family="'Liberation Sans', Arial, sans-serif" fill="#c9582f" style="font-kerning:none" xml:space="preserve"><tspan font-size="34.4">Ams</tspan><tspan font-size="19.95" dy="-11.52">2</tspan><tspan font-size="34.4" dy="11.52">io</tspan><tspan font-size="19.95" dy="-11.52">6</tspan><tspan font-size="34.4" dy="11.52">AUp</tspan></text>
<text transform="translate(87.74 969.60) scale(0.6246 1)" font-family="'Liberation Sans', Arial, sans-serif" fill="#1e1a1a" stroke="#1e1a1a" stroke-width="0.20" style="font-kerning:none" xml:space="preserve"><tspan font-size="33">1</tspan></text>
<text transform="translate(58.86 1122.20) scale(0.9896 1)" font-family="'Liberation Sans', Arial, sans-serif" fill="#1e1a1a" stroke="#1e1a1a" stroke-width="0.20" style="font-kerning:none" xml:space="preserve"><tspan font-size="33">0.5</tspan></text>
<text transform="translate(86.54 1279.30) scale(0.9270 1)" font-family="'Liberation Sans', Arial, sans-serif" fill="#1e1a1a" stroke="#1e1a1a" stroke-width="0.20" style="font-kerning:none" xml:space="preserve"><tspan font-size="33">0</tspan></text>
<text transform="translate(943.04 958.60) scale(0.6246 1)" font-family="'Liberation Sans', Arial, sans-serif" fill="#1e1a1a" stroke="#1e1a1a" stroke-width="0.20" style="font-kerning:none" xml:space="preserve"><tspan font-size="33">1</tspan></text>
<text transform="translate(914.26 1122.30) scale(0.9896 1)" font-family="'Liberation Sans', Arial, sans-serif" fill="#1e1a1a" stroke="#1e1a1a" stroke-width="0.20" style="font-kerning:none" xml:space="preserve"><tspan font-size="33">0.5</tspan></text>
<text transform="translate(941.61 1279.60) scale(0.9524 1)" font-family="'Liberation Sans', Arial, sans-serif" fill="#1e1a1a" stroke="#1e1a1a" stroke-width="0.20" style="font-kerning:none" xml:space="preserve"><tspan font-size="33">0</tspan></text>
<text transform="translate(155.64 1310.30) scale(0.9835 1)" font-family="'Liberation Sans', Arial, sans-serif" fill="#1e1a1a" stroke="#1e1a1a" stroke-width="0.20" style="font-kerning:none" xml:space="preserve"><tspan font-size="33">1000</tspan></text>
<text transform="translate(317.91 1310.30) scale(0.9936 1)" font-family="'Liberation Sans', Arial, sans-serif" fill="#1e1a1a" stroke="#1e1a1a" stroke-width="0.20" style="font-kerning:none" xml:space="preserve"><tspan font-size="33">2000</tspan></text>
<text transform="translate(469.29 1310.30) scale(0.9648 1)" font-family="'Liberation Sans', Arial, sans-serif" fill="#1e1a1a" stroke="#1e1a1a" stroke-width="0.20" style="font-kerning:none" xml:space="preserve"><tspan font-size="33">3000</tspan></text>
<text transform="translate(620.86 1310.30) scale(0.9818 1)" font-family="'Liberation Sans', Arial, sans-serif" fill="#1e1a1a" stroke="#1e1a1a" stroke-width="0.20" style="font-kerning:none" xml:space="preserve"><tspan font-size="33">4000</tspan></text>
<text transform="translate(929.50 1309.60) scale(0.9638 1)" font-family="'Liberation Sans', Arial, sans-serif" fill="#1e1a1a" stroke="#1e1a1a" stroke-width="0.20" style="font-kerning:none" xml:space="preserve"><tspan font-size="33">500</tspan></text>
<text transform="translate(1052.13 1309.60) scale(0.9491 1)" font-family="'Liberation Sans', Arial, sans-serif" fill="#1e1a1a" stroke="#1e1a1a" stroke-width="0.20" style="font-kerning:none" xml:space="preserve"><tspan font-size="33">1000</tspan></text>
<text transform="translate(1162.94 1309.60) scale(0.9835 1)" font-family="'Liberation Sans', Arial, sans-serif" fill="#1e1a1a" stroke="#1e1a1a" stroke-width="0.20" style="font-kerning:none" xml:space="preserve"><tspan font-size="33">1500</tspan></text>
<text transform="translate(1281.32 1309.60) scale(0.9866 1)" font-family="'Liberation Sans', Arial, sans-serif" fill="#1e1a1a" stroke="#1e1a1a" stroke-width="0.20" style="font-kerning:none" xml:space="preserve"><tspan font-size="33">2500</tspan></text>
<text transform="translate(1398.97 1309.60) scale(0.9831 1)" font-family="'Liberation Sans', Arial, sans-serif" fill="#1e1a1a" stroke="#1e1a1a" stroke-width="0.20" style="font-kerning:none" xml:space="preserve"><tspan font-size="33">3000</tspan></text>
<text transform="translate(1511.37 1309.60) scale(0.9831 1)" font-family="'Liberation Sans', Arial, sans-serif" fill="#1e1a1a" stroke="#1e1a1a" stroke-width="0.20" style="font-kerning:none" xml:space="preserve"><tspan font-size="33">3500</tspan></text>
<text transform="translate(1627.66 1309.60) scale(0.9902 1)" font-family="'Liberation Sans', Arial, sans-serif" fill="#1e1a1a" stroke="#1e1a1a" stroke-width="0.20" style="font-kerning:none" xml:space="preserve"><tspan font-size="33">4000</tspan></text>
<text transform="translate(447.83 1350.00) scale(1.0071 1)" font-family="'Liberation Sans', Arial, sans-serif" fill="#1e1a1a" stroke="#1e1a1a" stroke-width="0.20" style="font-kerning:none" xml:space="preserve"><tspan font-size="33">m/z</tspan></text>
<text transform="translate(1341.74 1350.00) scale(1.0030 1)" font-family="'Liberation Sans', Arial, sans-serif" fill="#1e1a1a" stroke="#1e1a1a" stroke-width="0.20" style="font-kerning:none" xml:space="preserve"><tspan font-size="33">m/z</tspan></text>
<text transform="translate(52.40 1206.50) rotate(-90) scale(1.0298 1)" font-family="'Liberation Sans', Arial, sans-serif" fill="#1e1a1a" stroke="#1e1a1a" stroke-width="0.50" style="font-kerning:none" xml:space="preserve"><tspan font-size="38.8">Intensity (×10</tspan><tspan font-size="22.6" dy="-13.00">5</tspan><tspan font-size="38.8" dy="13.00">)</tspan></text>
<text transform="translate(888.80 1211.50) rotate(-90) scale(1.0282 1)" font-family="'Liberation Sans', Arial, sans-serif" fill="#1e1a1a" stroke="#1e1a1a" stroke-width="0.50" style="font-kerning:none" xml:space="preserve"><tspan font-size="38.8">Intensity (×10</tspan><tspan font-size="22.6" dy="-13.00">5</tspan><tspan font-size="38.8" dy="13.00">)</tspan></text>
</svg>
</body></html>
